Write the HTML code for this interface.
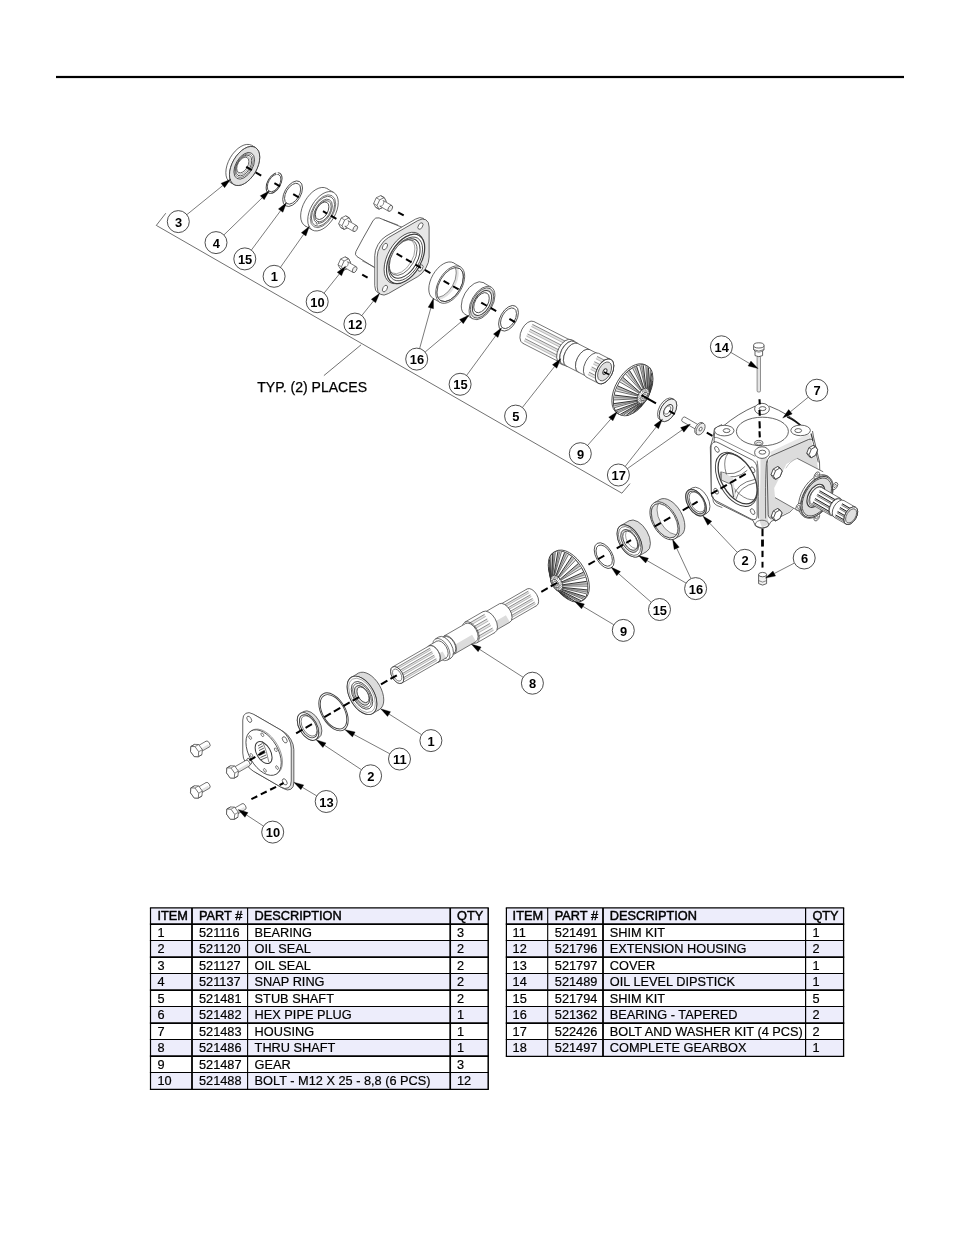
<!DOCTYPE html>
<html><head><meta charset="utf-8"><title>Gearbox parts</title>
<style>
html,body{margin:0;padding:0;background:#fff;}
body{width:954px;height:1235px;overflow:hidden;font-family:"Liberation Sans",sans-serif;}
svg{display:block;will-change:transform;}
text{font-family:"Liberation Sans",sans-serif;fill:#000;}
.cn{font-size:13.3px;font-weight:bold;}
.typ{font-size:14.05px;stroke:#000;stroke-width:0.25px;}
.th{font-size:12.75px;stroke:#000;stroke-width:0.45px;}
.td{font-size:12.75px;stroke:#000;stroke-width:0.2px;}
</style></head><body>
<svg width="954" height="1235" viewBox="0 0 954 1235">
<rect width="954" height="1235" fill="#fff"/>
<rect x="56" y="75.9" width="848" height="2.2" fill="#000"/>
<path d="M165.80 213.20 L156.30 225.40 L621.90 493.20 L630.00 483.60" fill="none" stroke="#333" stroke-width="0.7" stroke-linejoin="round" />
<line x1="323.90" y1="375.60" x2="361.10" y2="344.80" stroke="#333" stroke-width="0.7" />
<text x="257.2" y="392.3" class="typ">TYP. (2) PLACES</text>
<ellipse cx="240.96" cy="163.90" rx="12.35" ry="21.40" transform="rotate(30 240.96 163.90)" fill="#fff" stroke="#3c3c3c" stroke-width="0.7" />
<path d="M233.90 184.53 L230.26 182.43 L251.66 145.37 L255.30 147.47 Z" fill="#fff" stroke="none" stroke-width="0.7" stroke-linejoin="round" />
<line x1="233.90" y1="184.53" x2="230.26" y2="182.43" stroke="#3c3c3c" stroke-width="0.7" />
<line x1="255.30" y1="147.47" x2="251.66" y2="145.37" stroke="#3c3c3c" stroke-width="0.7" />
<ellipse cx="244.60" cy="166.00" rx="12.35" ry="21.40" transform="rotate(30 244.60 166.00)" fill="#fff" stroke="#3c3c3c" stroke-width="0.7" />
<ellipse cx="244.60" cy="166.00" rx="12.35" ry="21.40" transform="rotate(30 244.60 166.00)" fill="#e2e2e2" stroke="#3c3c3c" stroke-width="0.8" />
<ellipse cx="244.20" cy="165.80" rx="8.42" ry="14.60" transform="rotate(30 244.20 165.80)" fill="#fff" stroke="#3c3c3c" stroke-width="0.8" />
<ellipse cx="244.00" cy="165.70" rx="7.50" ry="13.00" transform="rotate(30 244.00 165.70)" fill="none" stroke="#3c3c3c" stroke-width="0.6" />
<ellipse cx="243.70" cy="165.50" rx="6.58" ry="11.40" transform="rotate(30 243.70 165.50)" fill="#fff" stroke="#3c3c3c" stroke-width="0.8" />
<ellipse cx="243.30" cy="165.30" rx="5.65" ry="9.80" transform="rotate(30 243.30 165.30)" fill="none" stroke="#777" stroke-width="0.5" />
<ellipse cx="242.80" cy="165.00" rx="4.96" ry="8.60" transform="rotate(30 242.80 165.00)" fill="#fff" stroke="#3c3c3c" stroke-width="0.7" />
<ellipse cx="274.10" cy="183.02" rx="6.52" ry="11.30" transform="rotate(30 274.10 183.02)" fill="#fff" stroke="#3c3c3c" stroke-width="0.9" />
<ellipse cx="274.10" cy="183.02" rx="5.54" ry="9.60" transform="rotate(30 274.10 183.02)" fill="#fff" stroke="#3c3c3c" stroke-width="0.8" />
<line x1="276.50" y1="172.02" x2="277.50" y2="174.42" stroke="#fff" stroke-width="2.0" />
<ellipse cx="292.60" cy="193.70" rx="8.08" ry="14.00" transform="rotate(30 292.60 193.70)" fill="#fff" stroke="#3c3c3c" stroke-width="0.8" />
<ellipse cx="292.60" cy="193.70" rx="6.58" ry="11.40" transform="rotate(30 292.60 193.70)" fill="#fff" stroke="#3c3c3c" stroke-width="0.8" />
<ellipse cx="315.90" cy="207.14" rx="12.46" ry="21.60" transform="rotate(30 315.90 207.14)" fill="#fff" stroke="#3c3c3c" stroke-width="0.7" />
<path d="M312.20 229.94 L305.10 225.84 L326.70 188.43 L333.80 192.53 Z" fill="#fff" stroke="none" stroke-width="0.7" stroke-linejoin="round" />
<line x1="312.20" y1="229.94" x2="305.10" y2="225.84" stroke="#3c3c3c" stroke-width="0.7" />
<line x1="333.80" y1="192.53" x2="326.70" y2="188.43" stroke="#3c3c3c" stroke-width="0.7" />
<ellipse cx="323.00" cy="211.24" rx="12.46" ry="21.60" transform="rotate(30 323.00 211.24)" fill="#fff" stroke="#3c3c3c" stroke-width="0.7" />
<ellipse cx="323.00" cy="211.24" rx="10.39" ry="18.00" transform="rotate(30 323.00 211.24)" fill="none" stroke="#3c3c3c" stroke-width="0.6" />
<ellipse cx="323.00" cy="211.24" rx="9.46" ry="16.40" transform="rotate(30 323.00 211.24)" fill="none" stroke="#3c3c3c" stroke-width="0.7" />
<ellipse cx="323.00" cy="211.24" rx="7.62" ry="13.20" transform="rotate(30 323.00 211.24)" fill="#fff" stroke="#3c3c3c" stroke-width="0.7" />
<ellipse cx="323.00" cy="211.24" rx="6.69" ry="11.60" transform="rotate(30 323.00 211.24)" fill="#fff" stroke="#3c3c3c" stroke-width="0.7" />
<ellipse cx="322.10" cy="210.74" rx="5.54" ry="9.60" transform="rotate(30 322.10 210.74)" fill="#fff" stroke="#3c3c3c" stroke-width="0.8" />
<ellipse cx="317.50" cy="222.84" rx="0.92" ry="1.60" transform="rotate(30 317.50 222.84)" fill="#fff" stroke="#3c3c3c" stroke-width="0.6" />
<path d="M338.63 223.75 L341.23 217.97 L345.73 215.82 L349.20 217.82 L351.11 221.45 L348.51 227.23 L344.00 229.38 L340.54 227.38 Z" fill="#fff" stroke="#3c3c3c" stroke-width="0.7" stroke-linejoin="round" />
<line x1="344.00" y1="229.38" x2="340.54" y2="227.38" stroke="#3c3c3c" stroke-width="0.595" />
<line x1="349.20" y1="217.82" x2="345.73" y2="215.82" stroke="#3c3c3c" stroke-width="0.595" />
<line x1="344.69" y1="219.97" x2="341.23" y2="217.97" stroke="#3c3c3c" stroke-width="0.595" />
<line x1="342.09" y1="225.75" x2="338.63" y2="223.75" stroke="#3c3c3c" stroke-width="0.595" />
<path d="M344.00 229.38 L348.51 227.23 L351.11 221.45 L349.20 217.82 L344.69 219.97 L342.09 225.75 Z" fill="#fff" stroke="#3c3c3c" stroke-width="0.7" stroke-linejoin="round" />
<path d="M344.95 226.46 L353.61 231.46 L356.91 225.74 L348.25 220.74 Z" fill="#fff" stroke="none" stroke-width="0.7" stroke-linejoin="round" />
<path d="M344.95 226.46 A1.90 3.30 30 0 0 348.25 220.74" fill="none" stroke="#3c3c3c" stroke-width="0.6" stroke-linejoin="round" stroke-linecap="round" />
<line x1="344.95" y1="226.46" x2="353.61" y2="231.46" stroke="#3c3c3c" stroke-width="0.7" />
<line x1="348.25" y1="220.74" x2="356.91" y2="225.74" stroke="#3c3c3c" stroke-width="0.7" />
<ellipse cx="355.26" cy="228.60" rx="1.90" ry="3.30" transform="rotate(30 355.26 228.60)" fill="#f0f0f0" stroke="#3c3c3c" stroke-width="0.7" />
<path d="M373.63 203.55 L376.23 197.77 L380.73 195.62 L384.20 197.62 L386.11 201.25 L383.51 207.03 L379.00 209.18 L375.54 207.18 Z" fill="#fff" stroke="#3c3c3c" stroke-width="0.7" stroke-linejoin="round" />
<line x1="379.00" y1="209.18" x2="375.54" y2="207.18" stroke="#3c3c3c" stroke-width="0.595" />
<line x1="384.20" y1="197.62" x2="380.73" y2="195.62" stroke="#3c3c3c" stroke-width="0.595" />
<line x1="379.69" y1="199.77" x2="376.23" y2="197.77" stroke="#3c3c3c" stroke-width="0.595" />
<line x1="377.09" y1="205.55" x2="373.63" y2="203.55" stroke="#3c3c3c" stroke-width="0.595" />
<path d="M379.00 209.18 L383.51 207.03 L386.11 201.25 L384.20 197.62 L379.69 199.77 L377.09 205.55 Z" fill="#fff" stroke="#3c3c3c" stroke-width="0.7" stroke-linejoin="round" />
<path d="M379.95 206.26 L388.61 211.26 L391.91 205.54 L383.25 200.54 Z" fill="#fff" stroke="none" stroke-width="0.7" stroke-linejoin="round" />
<path d="M379.95 206.26 A1.90 3.30 30 0 0 383.25 200.54" fill="none" stroke="#3c3c3c" stroke-width="0.6" stroke-linejoin="round" stroke-linecap="round" />
<line x1="379.95" y1="206.26" x2="388.61" y2="211.26" stroke="#3c3c3c" stroke-width="0.7" />
<line x1="383.25" y1="200.54" x2="391.91" y2="205.54" stroke="#3c3c3c" stroke-width="0.7" />
<ellipse cx="390.26" cy="208.40" rx="1.90" ry="3.30" transform="rotate(30 390.26 208.40)" fill="#f0f0f0" stroke="#3c3c3c" stroke-width="0.7" />
<path d="M338.03 264.75 L340.62 258.97 L345.13 256.82 L348.60 258.82 L350.51 262.45 L347.91 268.23 L343.40 270.38 L339.94 268.38 Z" fill="#fff" stroke="#3c3c3c" stroke-width="0.7" stroke-linejoin="round" />
<line x1="343.40" y1="270.38" x2="339.94" y2="268.38" stroke="#3c3c3c" stroke-width="0.595" />
<line x1="348.60" y1="258.82" x2="345.13" y2="256.82" stroke="#3c3c3c" stroke-width="0.595" />
<line x1="344.09" y1="260.97" x2="340.63" y2="258.97" stroke="#3c3c3c" stroke-width="0.595" />
<line x1="341.49" y1="266.75" x2="338.03" y2="264.75" stroke="#3c3c3c" stroke-width="0.595" />
<path d="M343.40 270.38 L347.91 268.23 L350.51 262.45 L348.60 258.82 L344.09 260.97 L341.49 266.75 Z" fill="#fff" stroke="#3c3c3c" stroke-width="0.7" stroke-linejoin="round" />
<path d="M344.35 267.46 L353.01 272.46 L356.31 266.74 L347.65 261.74 Z" fill="#fff" stroke="none" stroke-width="0.7" stroke-linejoin="round" />
<path d="M344.35 267.46 A1.90 3.30 30 0 0 347.65 261.74" fill="none" stroke="#3c3c3c" stroke-width="0.6" stroke-linejoin="round" stroke-linecap="round" />
<line x1="344.35" y1="267.46" x2="353.01" y2="272.46" stroke="#3c3c3c" stroke-width="0.7" />
<line x1="347.65" y1="261.74" x2="356.31" y2="266.74" stroke="#3c3c3c" stroke-width="0.7" />
<ellipse cx="354.66" cy="269.60" rx="1.90" ry="3.30" transform="rotate(30 354.66 269.60)" fill="#f0f0f0" stroke="#3c3c3c" stroke-width="0.7" />
<path d="M398.9 226.0 L379.1 217.9 Q375.4 216.9 373.2 220.4 L362.9 238.5 L355.9 251.6 Q354.4 254.6 357.0 256.6 L374.4 267.5 L402 262 L412 232 Z" fill="#fff" stroke="#3c3c3c" stroke-width="0.8" stroke-linejoin="round" stroke-linecap="round" />
<line x1="383.50" y1="219.80" x2="398.10" y2="225.00" stroke="#3c3c3c" stroke-width="0.5" />
<line x1="362.20" y1="260.90" x2="373.90" y2="266.80" stroke="#3c3c3c" stroke-width="0.5" />
<rect x="-29.5" y="-28" width="60" height="56" rx="13" ry="13" transform="matrix(0.866 -0.5 0 1 400.30 255.90)" fill="#fff" stroke="#3c3c3c" stroke-width="0.8" vector-effect="non-scaling-stroke"/>
<rect x="-29.5" y="-28" width="60" height="56" rx="13" ry="13" transform="matrix(0.866 -0.5 0 1 402.70 257.30)" fill="#e6e6e6" stroke="#3c3c3c" stroke-width="0.8" vector-effect="non-scaling-stroke"/>
<ellipse cx="420.45" cy="226.05" rx="2.08" ry="3.60" transform="rotate(30 420.45 226.05)" fill="#fff" stroke="#3c3c3c" stroke-width="0.7" />
<ellipse cx="384.95" cy="246.55" rx="2.08" ry="3.60" transform="rotate(30 384.95 246.55)" fill="#fff" stroke="#3c3c3c" stroke-width="0.7" />
<ellipse cx="384.95" cy="288.55" rx="2.08" ry="3.60" transform="rotate(30 384.95 288.55)" fill="#fff" stroke="#3c3c3c" stroke-width="0.7" />
<ellipse cx="420.45" cy="268.05" rx="2.08" ry="3.60" transform="rotate(30 420.45 268.05)" fill="#fff" stroke="#3c3c3c" stroke-width="0.7" />
<ellipse cx="404.00" cy="258.00" rx="16.27" ry="28.20" transform="rotate(30 404.00 258.00)" fill="#fff" stroke="#3c3c3c" stroke-width="0.8" />
<ellipse cx="405.60" cy="258.90" rx="15.58" ry="27.00" transform="rotate(30 405.60 258.90)" fill="#fff" stroke="#3c3c3c" stroke-width="1.2" />
<ellipse cx="405.60" cy="258.90" rx="13.85" ry="24.00" transform="rotate(30 405.60 258.90)" fill="#fff" stroke="#3c3c3c" stroke-width="0.8" />
<ellipse cx="404.80" cy="258.50" rx="12.46" ry="21.60" transform="rotate(30 404.80 258.50)" fill="#fff" stroke="#3c3c3c" stroke-width="1.0" />
<ellipse cx="403.20" cy="257.50" rx="11.31" ry="19.60" transform="rotate(30 403.20 257.50)" fill="#fff" stroke="#3c3c3c" stroke-width="0.7" />
<ellipse cx="401.60" cy="256.60" rx="10.85" ry="18.80" transform="rotate(30 401.60 256.60)" fill="none" stroke="#555" stroke-width="0.5" />
<ellipse cx="443.27" cy="280.63" rx="11.83" ry="20.50" transform="rotate(30 443.27 280.63)" fill="#fff" stroke="#3c3c3c" stroke-width="0.7" />
<path d="M439.95 302.38 L433.02 298.38 L453.52 262.88 L460.45 266.88 Z" fill="#fff" stroke="none" stroke-width="0.7" stroke-linejoin="round" />
<line x1="439.95" y1="302.38" x2="433.02" y2="298.38" stroke="#3c3c3c" stroke-width="0.7" />
<line x1="460.45" y1="266.88" x2="453.52" y2="262.88" stroke="#3c3c3c" stroke-width="0.7" />
<ellipse cx="450.20" cy="284.63" rx="11.83" ry="20.50" transform="rotate(30 450.20 284.63)" fill="#fff" stroke="#3c3c3c" stroke-width="0.7" />
<ellipse cx="450.20" cy="284.63" rx="10.73" ry="18.60" transform="rotate(30 450.20 284.63)" fill="#fff" stroke="#3c3c3c" stroke-width="0.7" />
<clipPath id="cup1"><ellipse cx="450.20" cy="284.63" rx="10.73" ry="18.6" transform="rotate(30 450.20 284.63)"/></clipPath>
<g clip-path="url(#cup1)">
<ellipse cx="443.20" cy="280.63" rx="10.62" ry="18.40" transform="rotate(30 443.20 280.63)" fill="none" stroke="#e2e2e2" stroke-width="5.0" />
<ellipse cx="443.20" cy="280.63" rx="10.62" ry="18.40" transform="rotate(30 443.20 280.63)" fill="#fff" stroke="#555" stroke-width="0.6" />
</g>
<ellipse cx="450.20" cy="284.63" rx="10.73" ry="18.60" transform="rotate(30 450.20 284.63)" fill="none" stroke="#3c3c3c" stroke-width="0.7" />
<ellipse cx="474.21" cy="298.48" rx="10.56" ry="18.30" transform="rotate(30 474.21 298.48)" fill="#fff" stroke="#3c3c3c" stroke-width="0.7" />
<path d="M472.85 318.83 L465.06 314.33 L483.36 282.63 L491.15 287.13 Z" fill="#fff" stroke="none" stroke-width="0.7" stroke-linejoin="round" />
<line x1="472.85" y1="318.83" x2="465.06" y2="314.33" stroke="#3c3c3c" stroke-width="0.7" />
<line x1="491.15" y1="287.13" x2="483.36" y2="282.63" stroke="#3c3c3c" stroke-width="0.7" />
<ellipse cx="482.00" cy="302.98" rx="10.56" ry="18.30" transform="rotate(30 482.00 302.98)" fill="#fff" stroke="#3c3c3c" stroke-width="0.7" />
<ellipse cx="482.00" cy="302.98" rx="9.58" ry="16.60" transform="rotate(30 482.00 302.98)" fill="#dcdcdc" stroke="#3c3c3c" stroke-width="0.7" />
<ellipse cx="482.00" cy="302.98" rx="7.85" ry="13.60" transform="rotate(30 482.00 302.98)" fill="#fff" stroke="#3c3c3c" stroke-width="0.9" />
<ellipse cx="481.50" cy="302.68" rx="6.35" ry="11.00" transform="rotate(30 481.50 302.68)" fill="#fff" stroke="#3c3c3c" stroke-width="0.8" />
<ellipse cx="508.50" cy="318.27" rx="8.08" ry="14.00" transform="rotate(30 508.50 318.27)" fill="#fff" stroke="#3c3c3c" stroke-width="0.8" />
<ellipse cx="508.50" cy="318.27" rx="6.52" ry="11.30" transform="rotate(30 508.50 318.27)" fill="#fff" stroke="#3c3c3c" stroke-width="0.8" />
<ellipse cx="528.29" cy="332.40" rx="7.04" ry="12.20" transform="rotate(27.072080237992736 528.29 332.40)" fill="#fff" stroke="#3c3c3c" stroke-width="0.7" />
<path d="M560.14 362.37 L522.74 343.26 L533.84 321.53 L571.24 340.65 Z" fill="#fff" stroke="none" stroke-width="0.7" stroke-linejoin="round" />
<line x1="560.14" y1="362.37" x2="522.74" y2="343.26" stroke="#3c3c3c" stroke-width="0.7" />
<line x1="571.24" y1="340.65" x2="533.84" y2="321.53" stroke="#3c3c3c" stroke-width="0.7" />
<path d="M569.80 343.47 L532.40 324.36 L531.29 326.53 L568.69 345.65 Z" fill="#e4e4e4" stroke="none" stroke-width="0.7" stroke-linejoin="round" />
<line x1="569.80" y1="343.47" x2="532.40" y2="324.36" stroke="#444" stroke-width="0.6" />
<line x1="568.69" y1="345.65" x2="531.29" y2="326.53" stroke="#777" stroke-width="0.45" />
<path d="M567.35 348.25 L529.96 329.14 L528.84 331.31 L566.24 350.43 Z" fill="#e4e4e4" stroke="none" stroke-width="0.7" stroke-linejoin="round" />
<line x1="567.35" y1="348.25" x2="529.96" y2="329.14" stroke="#444" stroke-width="0.6" />
<line x1="566.24" y1="350.43" x2="528.84" y2="331.31" stroke="#777" stroke-width="0.45" />
<path d="M564.91 353.03 L527.51 333.92 L526.40 336.09 L563.80 355.21 Z" fill="#e4e4e4" stroke="none" stroke-width="0.7" stroke-linejoin="round" />
<line x1="564.91" y1="353.03" x2="527.51" y2="333.92" stroke="#444" stroke-width="0.6" />
<line x1="563.80" y1="355.21" x2="526.40" y2="336.09" stroke="#777" stroke-width="0.45" />
<path d="M562.47 357.81 L525.07 338.70 L523.96 340.87 L561.36 359.99 Z" fill="#e4e4e4" stroke="none" stroke-width="0.7" stroke-linejoin="round" />
<line x1="562.47" y1="357.81" x2="525.07" y2="338.70" stroke="#444" stroke-width="0.6" />
<line x1="561.36" y1="359.99" x2="523.96" y2="340.87" stroke="#777" stroke-width="0.45" />
<ellipse cx="565.69" cy="351.51" rx="7.04" ry="12.20" transform="rotate(27.072080237992736 565.69 351.51)" fill="none" stroke="#3c3c3c" stroke-width="0.6" />
<ellipse cx="565.69" cy="351.51" rx="7.62" ry="13.20" transform="rotate(27.072080237992736 565.69 351.51)" fill="#fff" stroke="#3c3c3c" stroke-width="0.7" />
<path d="M562.53 364.72 L559.68 363.27 L571.70 339.76 L574.54 341.21 Z" fill="#fff" stroke="none" stroke-width="0.7" stroke-linejoin="round" />
<path d="M562.53 364.72 L559.68 363.27 L564.19 354.45 L567.04 355.91 Z" fill="#dcdcdc" stroke="none" stroke-width="0.7" stroke-linejoin="round" />
<line x1="562.53" y1="364.72" x2="559.68" y2="363.27" stroke="#3c3c3c" stroke-width="0.7" />
<line x1="574.54" y1="341.21" x2="571.70" y2="339.76" stroke="#3c3c3c" stroke-width="0.7" />
<ellipse cx="568.54" cy="352.97" rx="7.62" ry="13.20" transform="rotate(27.072080237992736 568.54 352.97)" fill="none" stroke="#3c3c3c" stroke-width="0.6" />
<ellipse cx="568.54" cy="352.97" rx="7.39" ry="12.80" transform="rotate(27.072080237992736 568.54 352.97)" fill="#fff" stroke="#3c3c3c" stroke-width="0.7" />
<path d="M566.27 366.19 L562.71 364.37 L574.36 341.57 L577.92 343.39 Z" fill="#fff" stroke="none" stroke-width="0.7" stroke-linejoin="round" />
<line x1="566.27" y1="366.19" x2="562.71" y2="364.37" stroke="#3c3c3c" stroke-width="0.7" />
<line x1="577.92" y1="343.39" x2="574.36" y2="341.57" stroke="#3c3c3c" stroke-width="0.7" />
<ellipse cx="572.10" cy="354.79" rx="7.39" ry="12.80" transform="rotate(27.072080237992736 572.10 354.79)" fill="none" stroke="#3c3c3c" stroke-width="0.6" />
<ellipse cx="572.10" cy="354.79" rx="7.27" ry="12.60" transform="rotate(27.072080237992736 572.10 354.79)" fill="#fff" stroke="#3c3c3c" stroke-width="0.7" />
<path d="M578.39 372.15 L566.36 366.01 L577.83 343.57 L589.85 349.71 Z" fill="#fff" stroke="none" stroke-width="0.7" stroke-linejoin="round" />
<line x1="578.39" y1="372.15" x2="566.36" y2="366.01" stroke="#3c3c3c" stroke-width="0.7" />
<line x1="589.85" y1="349.71" x2="577.83" y2="343.57" stroke="#3c3c3c" stroke-width="0.7" />
<ellipse cx="584.12" cy="360.93" rx="7.27" ry="12.60" transform="rotate(27.072080237992736 584.12 360.93)" fill="none" stroke="#3c3c3c" stroke-width="0.6" />
<ellipse cx="584.12" cy="360.93" rx="7.27" ry="12.60" transform="rotate(27.072080237992736 584.12 360.93)" fill="#fff" stroke="#3c3c3c" stroke-width="0.7" />
<path d="M586.84 376.48 L578.39 372.15 L589.85 349.71 L598.31 354.04 Z" fill="#fff" stroke="none" stroke-width="0.7" stroke-linejoin="round" />
<line x1="586.84" y1="376.48" x2="578.39" y2="372.15" stroke="#3c3c3c" stroke-width="0.7" />
<line x1="598.31" y1="354.04" x2="589.85" y2="349.71" stroke="#3c3c3c" stroke-width="0.7" />
<ellipse cx="592.58" cy="365.26" rx="7.27" ry="12.60" transform="rotate(27.072080237992736 592.58 365.26)" fill="none" stroke="#3c3c3c" stroke-width="0.6" />
<ellipse cx="592.58" cy="365.26" rx="7.73" ry="13.40" transform="rotate(27.072080237992736 592.58 365.26)" fill="#fff" stroke="#3c3c3c" stroke-width="0.7" />
<path d="M598.50 383.33 L586.48 377.19 L598.68 353.32 L610.70 359.47 Z" fill="#fff" stroke="none" stroke-width="0.7" stroke-linejoin="round" />
<line x1="598.50" y1="383.33" x2="586.48" y2="377.19" stroke="#3c3c3c" stroke-width="0.7" />
<line x1="610.70" y1="359.47" x2="598.68" y2="353.32" stroke="#3c3c3c" stroke-width="0.7" />
<path d="M609.11 362.57 L597.09 356.43 L595.87 358.81 L607.89 364.96 Z" fill="#e4e4e4" stroke="none" stroke-width="0.7" stroke-linejoin="round" />
<line x1="609.11" y1="362.57" x2="597.09" y2="356.43" stroke="#444" stroke-width="0.6" />
<line x1="607.89" y1="364.96" x2="595.87" y2="358.81" stroke="#777" stroke-width="0.45" />
<path d="M606.43 367.82 L594.41 361.68 L593.19 364.06 L605.21 370.21 Z" fill="#e4e4e4" stroke="none" stroke-width="0.7" stroke-linejoin="round" />
<line x1="606.43" y1="367.82" x2="594.41" y2="361.68" stroke="#444" stroke-width="0.6" />
<line x1="605.21" y1="370.21" x2="593.19" y2="364.06" stroke="#777" stroke-width="0.45" />
<path d="M603.75 373.07 L591.73 366.93 L590.51 369.31 L602.53 375.46 Z" fill="#e4e4e4" stroke="none" stroke-width="0.7" stroke-linejoin="round" />
<line x1="603.75" y1="373.07" x2="591.73" y2="366.93" stroke="#444" stroke-width="0.6" />
<line x1="602.53" y1="375.46" x2="590.51" y2="369.31" stroke="#777" stroke-width="0.45" />
<path d="M601.06 378.32 L589.04 372.18 L587.82 374.56 L599.84 380.71 Z" fill="#e4e4e4" stroke="none" stroke-width="0.7" stroke-linejoin="round" />
<line x1="601.06" y1="378.32" x2="589.04" y2="372.18" stroke="#444" stroke-width="0.6" />
<line x1="599.84" y1="380.71" x2="587.82" y2="374.56" stroke="#777" stroke-width="0.45" />
<ellipse cx="604.60" cy="371.40" rx="7.73" ry="13.40" transform="rotate(27.072080237992736 604.60 371.40)" fill="none" stroke="#3c3c3c" stroke-width="0.6" />
<ellipse cx="604.60" cy="371.40" rx="7.73" ry="13.40" transform="rotate(27.072080237992736 604.60 371.40)" fill="#fff" stroke="#3c3c3c" stroke-width="0.8" />
<ellipse cx="604.60" cy="371.40" rx="7.73" ry="13.40" transform="rotate(27.072080237992736 604.60 371.40)" fill="#fff" stroke="#3c3c3c" stroke-width="0.9" />
<ellipse cx="604.60" cy="371.40" rx="5.89" ry="10.20" transform="rotate(27.072080237992736 604.60 371.40)" fill="#e0e0e0" stroke="#3c3c3c" stroke-width="0.7" />
<ellipse cx="604.90" cy="371.60" rx="1.73" ry="3.00" transform="rotate(27.072080237992736 604.90 371.60)" fill="#fff" stroke="#3c3c3c" stroke-width="1.0" />
<ellipse cx="631.64" cy="389.32" rx="16.16" ry="28.00" transform="rotate(30 631.64 389.32)" fill="#fff" stroke="#3c3c3c" stroke-width="0.8" />
<ellipse cx="633.20" cy="390.22" rx="16.16" ry="28.00" transform="rotate(30 633.20 390.22)" fill="#fff" stroke="#3c3c3c" stroke-width="0.9" />
<path d="M620.28 414.35 L621.96 414.93 L639.67 403.64 L639.32 403.53 Z" fill="#bdbdbd" stroke="none" stroke-width="0.7" stroke-linejoin="round" />
<path d="M621.96 414.93 L623.46 415.18 L640.04 403.71 L639.67 403.64 Z" fill="#e9e9e9" stroke="none" stroke-width="0.7" stroke-linejoin="round" />
<line x1="620.28" y1="414.35" x2="639.32" y2="403.53" stroke="#222" stroke-width="0.9" />
<line x1="621.96" y1="414.93" x2="639.67" y2="403.64" stroke="#444" stroke-width="0.6" />
<line x1="623.46" y1="415.18" x2="640.04" y2="403.71" stroke="#333" stroke-width="0.7" />
<path d="M626.36 415.10 L628.41 414.66 L641.67 403.55 L641.25 403.65 Z" fill="#bdbdbd" stroke="none" stroke-width="0.7" stroke-linejoin="round" />
<path d="M628.41 414.66 L630.16 414.07 L642.11 403.41 L641.67 403.55 Z" fill="#e9e9e9" stroke="none" stroke-width="0.7" stroke-linejoin="round" />
<line x1="626.36" y1="415.10" x2="641.25" y2="403.65" stroke="#222" stroke-width="0.9" />
<line x1="628.41" y1="414.66" x2="641.67" y2="403.55" stroke="#444" stroke-width="0.6" />
<line x1="630.16" y1="414.07" x2="642.11" y2="403.41" stroke="#333" stroke-width="0.7" />
<path d="M633.37 412.49 L635.52 411.09 L643.88 402.45 L643.43 402.74 Z" fill="#bdbdbd" stroke="none" stroke-width="0.7" stroke-linejoin="round" />
<path d="M635.52 411.09 L637.28 409.73 L644.32 402.11 L643.88 402.45 Z" fill="#e9e9e9" stroke="none" stroke-width="0.7" stroke-linejoin="round" />
<line x1="633.37" y1="412.49" x2="643.43" y2="402.74" stroke="#222" stroke-width="0.9" />
<line x1="635.52" y1="411.09" x2="643.88" y2="402.45" stroke="#444" stroke-width="0.6" />
<line x1="637.28" y1="409.73" x2="644.32" y2="402.11" stroke="#333" stroke-width="0.7" />
<path d="M640.36 406.87 L642.31 404.70 L645.98 400.46 L645.58 400.92 Z" fill="#bdbdbd" stroke="none" stroke-width="0.7" stroke-linejoin="round" />
<path d="M642.31 404.70 L643.84 402.76 L646.37 399.98 L645.98 400.46 Z" fill="#e9e9e9" stroke="none" stroke-width="0.7" stroke-linejoin="round" />
<line x1="640.36" y1="406.87" x2="645.58" y2="400.92" stroke="#222" stroke-width="0.9" />
<line x1="642.31" y1="404.70" x2="645.98" y2="400.46" stroke="#444" stroke-width="0.6" />
<line x1="643.84" y1="402.76" x2="646.37" y2="399.98" stroke="#333" stroke-width="0.7" />
<path d="M646.38 399.00 L647.87 396.35 L647.71 397.87 L647.41 398.42 Z" fill="#bdbdbd" stroke="none" stroke-width="0.7" stroke-linejoin="round" />
<path d="M647.87 396.35 L648.97 394.09 L647.99 397.31 L647.71 397.87 Z" fill="#e9e9e9" stroke="none" stroke-width="0.7" stroke-linejoin="round" />
<line x1="646.38" y1="399.00" x2="647.41" y2="398.42" stroke="#222" stroke-width="0.9" />
<line x1="647.87" y1="396.35" x2="647.71" y2="397.87" stroke="#444" stroke-width="0.6" />
<line x1="648.97" y1="394.09" x2="647.99" y2="397.31" stroke="#333" stroke-width="0.7" />
<path d="M650.61 389.95 L651.45 387.18 L648.82 395.03 L648.66 395.60 Z" fill="#bdbdbd" stroke="none" stroke-width="0.7" stroke-linejoin="round" />
<path d="M651.45 387.18 L651.97 384.90 L648.95 394.46 L648.82 395.03 Z" fill="#e9e9e9" stroke="none" stroke-width="0.7" stroke-linejoin="round" />
<line x1="650.61" y1="389.95" x2="648.66" y2="395.60" stroke="#222" stroke-width="0.9" />
<line x1="651.45" y1="387.18" x2="648.82" y2="395.03" stroke="#444" stroke-width="0.6" />
<line x1="651.97" y1="384.90" x2="648.95" y2="394.46" stroke="#333" stroke-width="0.7" />
<path d="M652.50 380.93 L652.56 378.42 L649.17 392.31 L649.16 392.83 Z" fill="#bdbdbd" stroke="none" stroke-width="0.7" stroke-linejoin="round" />
<path d="M652.56 378.42 L652.43 376.43 L649.14 391.82 L649.17 392.31 Z" fill="#e9e9e9" stroke="none" stroke-width="0.7" stroke-linejoin="round" />
<line x1="652.50" y1="380.93" x2="649.16" y2="392.83" stroke="#222" stroke-width="0.9" />
<line x1="652.56" y1="378.42" x2="649.17" y2="392.31" stroke="#444" stroke-width="0.6" />
<line x1="652.43" y1="376.43" x2="649.14" y2="391.82" stroke="#333" stroke-width="0.7" />
<path d="M651.78 373.17 L651.06 371.25 L648.70 390.09 L648.86 390.48 Z" fill="#bdbdbd" stroke="none" stroke-width="0.7" stroke-linejoin="round" />
<path d="M651.06 371.25 L650.30 369.83 L648.51 389.73 L648.70 390.09 Z" fill="#e9e9e9" stroke="none" stroke-width="0.7" stroke-linejoin="round" />
<line x1="651.78" y1="373.17" x2="648.86" y2="390.48" stroke="#222" stroke-width="0.9" />
<line x1="651.06" y1="371.25" x2="648.70" y2="390.09" stroke="#444" stroke-width="0.6" />
<line x1="650.30" y1="369.83" x2="648.51" y2="389.73" stroke="#333" stroke-width="0.7" />
<path d="M648.55 367.71 L647.15 366.64 L647.49 388.66 L647.78 388.87 Z" fill="#bdbdbd" stroke="none" stroke-width="0.7" stroke-linejoin="round" />
<path d="M647.15 366.64 L645.85 365.97 L647.17 388.49 L647.49 388.66 Z" fill="#e9e9e9" stroke="none" stroke-width="0.7" stroke-linejoin="round" />
<line x1="648.55" y1="367.71" x2="647.78" y2="388.87" stroke="#222" stroke-width="0.9" />
<line x1="647.15" y1="366.64" x2="647.49" y2="388.66" stroke="#444" stroke-width="0.6" />
<line x1="645.85" y1="365.97" x2="647.17" y2="388.49" stroke="#333" stroke-width="0.7" />
<path d="M643.25 365.29 L641.35 365.22 L645.69 388.22 L646.08 388.22 Z" fill="#bdbdbd" stroke="none" stroke-width="0.7" stroke-linejoin="round" />
<path d="M641.35 365.22 L639.70 365.40 L645.28 388.25 L645.69 388.22 Z" fill="#e9e9e9" stroke="none" stroke-width="0.7" stroke-linejoin="round" />
<line x1="643.25" y1="365.29" x2="646.08" y2="388.22" stroke="#222" stroke-width="0.9" />
<line x1="641.35" y1="365.22" x2="645.69" y2="388.22" stroke="#444" stroke-width="0.6" />
<line x1="639.70" y1="365.40" x2="645.28" y2="388.25" stroke="#333" stroke-width="0.7" />
<path d="M636.59 366.24 L634.46 367.18 L643.55 388.82 L643.99 388.62 Z" fill="#bdbdbd" stroke="none" stroke-width="0.7" stroke-linejoin="round" />
<path d="M634.46 367.18 L632.67 368.17 L643.11 389.07 L643.55 388.82 Z" fill="#e9e9e9" stroke="none" stroke-width="0.7" stroke-linejoin="round" />
<line x1="636.59" y1="366.24" x2="643.99" y2="388.62" stroke="#222" stroke-width="0.9" />
<line x1="634.46" y1="367.18" x2="643.55" y2="388.82" stroke="#444" stroke-width="0.6" />
<line x1="632.67" y1="368.17" x2="643.11" y2="389.07" stroke="#333" stroke-width="0.7" />
<path d="M629.47 370.43 L627.39 372.24 L641.36 390.40 L641.79 390.01 Z" fill="#bdbdbd" stroke="none" stroke-width="0.7" stroke-linejoin="round" />
<path d="M627.39 372.24 L625.71 373.93 L640.94 390.81 L641.36 390.40 Z" fill="#e9e9e9" stroke="none" stroke-width="0.7" stroke-linejoin="round" />
<line x1="629.47" y1="370.43" x2="641.79" y2="390.01" stroke="#222" stroke-width="0.9" />
<line x1="627.39" y1="372.24" x2="641.36" y2="390.40" stroke="#444" stroke-width="0.6" />
<line x1="625.71" y1="373.93" x2="640.94" y2="390.81" stroke="#333" stroke-width="0.7" />
<path d="M622.86 377.29 L621.11 379.74 L639.41 392.72 L639.77 392.21 Z" fill="#bdbdbd" stroke="none" stroke-width="0.7" stroke-linejoin="round" />
<path d="M621.11 379.74 L619.76 381.88 L639.07 393.25 L639.41 392.72 Z" fill="#e9e9e9" stroke="none" stroke-width="0.7" stroke-linejoin="round" />
<line x1="622.86" y1="377.29" x2="639.77" y2="392.21" stroke="#222" stroke-width="0.9" />
<line x1="621.11" y1="379.74" x2="639.41" y2="392.72" stroke="#444" stroke-width="0.6" />
<line x1="619.76" y1="381.88" x2="639.07" y2="393.25" stroke="#333" stroke-width="0.7" />
<path d="M617.64 385.90 L616.46 388.65 L637.97 395.49 L638.20 394.91 Z" fill="#bdbdbd" stroke="none" stroke-width="0.7" stroke-linejoin="round" />
<path d="M616.46 388.65 L615.63 390.96 L637.76 396.06 L637.97 395.49 Z" fill="#e9e9e9" stroke="none" stroke-width="0.7" stroke-linejoin="round" />
<line x1="617.64" y1="385.90" x2="638.20" y2="394.91" stroke="#222" stroke-width="0.9" />
<line x1="616.46" y1="388.65" x2="637.97" y2="395.49" stroke="#444" stroke-width="0.6" />
<line x1="615.63" y1="390.96" x2="637.76" y2="396.06" stroke="#333" stroke-width="0.7" />
<path d="M614.52 395.09 L614.07 397.77 L637.22 398.32 L637.31 397.76 Z" fill="#bdbdbd" stroke="none" stroke-width="0.7" stroke-linejoin="round" />
<path d="M614.07 397.77 L613.87 399.94 L637.17 398.86 L637.22 398.32 Z" fill="#e9e9e9" stroke="none" stroke-width="0.7" stroke-linejoin="round" />
<line x1="614.52" y1="395.09" x2="637.31" y2="397.76" stroke="#222" stroke-width="0.9" />
<line x1="614.07" y1="397.77" x2="637.22" y2="398.32" stroke="#444" stroke-width="0.6" />
<line x1="613.87" y1="399.94" x2="637.17" y2="398.86" stroke="#333" stroke-width="0.7" />
<path d="M613.93 403.62 L614.27 405.88 L637.29 400.83 L637.21 400.37 Z" fill="#bdbdbd" stroke="none" stroke-width="0.7" stroke-linejoin="round" />
<path d="M614.27 405.88 L614.72 407.61 L637.40 401.26 L637.29 400.83 Z" fill="#e9e9e9" stroke="none" stroke-width="0.7" stroke-linejoin="round" />
<line x1="613.93" y1="403.62" x2="637.21" y2="400.37" stroke="#222" stroke-width="0.9" />
<line x1="614.27" y1="405.88" x2="637.29" y2="400.83" stroke="#444" stroke-width="0.6" />
<line x1="614.72" y1="407.61" x2="637.40" y2="401.26" stroke="#333" stroke-width="0.7" />
<path d="M615.94 410.35 L617.02 411.87 L638.14 402.69 L637.91 402.38 Z" fill="#bdbdbd" stroke="none" stroke-width="0.7" stroke-linejoin="round" />
<path d="M617.02 411.87 L618.07 412.93 L638.40 402.96 L638.14 402.69 Z" fill="#e9e9e9" stroke="none" stroke-width="0.7" stroke-linejoin="round" />
<line x1="615.94" y1="410.35" x2="637.91" y2="402.38" stroke="#222" stroke-width="0.9" />
<line x1="617.02" y1="411.87" x2="638.14" y2="402.69" stroke="#444" stroke-width="0.6" />
<line x1="618.07" y1="412.93" x2="638.40" y2="402.96" stroke="#333" stroke-width="0.7" />
<ellipse cx="643.16" cy="395.97" rx="4.90" ry="8.50" transform="rotate(30 643.16 395.97)" fill="#fff" stroke="#3c3c3c" stroke-width="0.8" />
<line x1="639.15" y1="403.46" x2="640.95" y2="400.09" stroke="#444" stroke-width="0.6" />
<line x1="641.04" y1="403.69" x2="641.99" y2="400.22" stroke="#444" stroke-width="0.6" />
<line x1="643.21" y1="402.88" x2="643.19" y2="399.77" stroke="#444" stroke-width="0.6" />
<line x1="645.38" y1="401.14" x2="644.38" y2="398.81" stroke="#444" stroke-width="0.6" />
<line x1="647.25" y1="398.69" x2="645.41" y2="397.47" stroke="#444" stroke-width="0.6" />
<line x1="648.56" y1="395.89" x2="646.13" y2="395.93" stroke="#444" stroke-width="0.6" />
<line x1="649.15" y1="393.09" x2="646.45" y2="394.39" stroke="#444" stroke-width="0.6" />
<line x1="648.92" y1="390.68" x2="646.33" y2="393.06" stroke="#444" stroke-width="0.6" />
<line x1="647.92" y1="388.99" x2="645.78" y2="392.13" stroke="#444" stroke-width="0.6" />
<line x1="646.28" y1="388.24" x2="644.87" y2="391.72" stroke="#444" stroke-width="0.6" />
<line x1="644.21" y1="388.53" x2="643.74" y2="391.88" stroke="#444" stroke-width="0.6" />
<line x1="642.00" y1="389.83" x2="642.52" y2="392.60" stroke="#444" stroke-width="0.6" />
<line x1="639.95" y1="391.96" x2="641.39" y2="393.77" stroke="#444" stroke-width="0.6" />
<line x1="638.33" y1="394.63" x2="640.50" y2="395.23" stroke="#444" stroke-width="0.6" />
<line x1="637.37" y1="397.48" x2="639.97" y2="396.80" stroke="#444" stroke-width="0.6" />
<line x1="637.18" y1="400.13" x2="639.87" y2="398.26" stroke="#444" stroke-width="0.6" />
<line x1="637.80" y1="402.22" x2="640.21" y2="399.41" stroke="#444" stroke-width="0.6" />
<ellipse cx="644.20" cy="396.57" rx="2.70" ry="4.68" transform="rotate(30 644.20 396.57)" fill="#e4e4e4" stroke="#3c3c3c" stroke-width="0.7" />
<ellipse cx="644.20" cy="396.57" rx="1.57" ry="2.72" transform="rotate(30 644.20 396.57)" fill="#fff" stroke="#3c3c3c" stroke-width="0.6" />
<ellipse cx="666.27" cy="409.30" rx="7.15" ry="12.40" transform="rotate(30 666.27 409.30)" fill="#fff" stroke="#3c3c3c" stroke-width="0.7" />
<path d="M661.80 421.04 L660.07 420.04 L672.47 398.56 L674.20 399.56 Z" fill="#fff" stroke="none" stroke-width="0.7" stroke-linejoin="round" />
<line x1="661.80" y1="421.04" x2="660.07" y2="420.04" stroke="#3c3c3c" stroke-width="0.7" />
<line x1="674.20" y1="399.56" x2="672.47" y2="398.56" stroke="#3c3c3c" stroke-width="0.7" />
<ellipse cx="668.00" cy="410.30" rx="7.15" ry="12.40" transform="rotate(30 668.00 410.30)" fill="#fff" stroke="#3c3c3c" stroke-width="0.7" />
<ellipse cx="668.00" cy="410.30" rx="7.15" ry="12.40" transform="rotate(30 668.00 410.30)" fill="#f1f1f1" stroke="#3c3c3c" stroke-width="0.8" />
<ellipse cx="668.30" cy="410.50" rx="3.81" ry="6.60" transform="rotate(30 668.30 410.50)" fill="#fff" stroke="#3c3c3c" stroke-width="0.9" />
<ellipse cx="667.40" cy="410.00" rx="2.65" ry="4.60" transform="rotate(30 667.40 410.00)" fill="#fff" stroke="#3c3c3c" stroke-width="0.6" />
<ellipse cx="683.60" cy="419.30" rx="1.50" ry="2.60" transform="rotate(30 683.60 419.30)" fill="#fff" stroke="#3c3c3c" stroke-width="0.7" />
<path d="M682.30 421.55 L699.30 431.36 L701.90 426.86 L684.90 417.05 Z" fill="#fff" stroke="none" stroke-width="0.7" stroke-linejoin="round" />
<line x1="682.30" y1="421.55" x2="699.30" y2="431.36" stroke="#3c3c3c" stroke-width="0.7" />
<line x1="684.90" y1="417.05" x2="701.90" y2="426.86" stroke="#3c3c3c" stroke-width="0.7" />
<ellipse cx="699.21" cy="428.31" rx="3.69" ry="6.40" transform="rotate(30 699.21 428.31)" fill="#fff" stroke="#3c3c3c" stroke-width="0.7" />
<path d="M697.40 434.65 L696.01 433.85 L702.41 422.77 L703.80 423.57 Z" fill="#fff" stroke="none" stroke-width="0.7" stroke-linejoin="round" />
<line x1="697.40" y1="434.65" x2="696.01" y2="433.85" stroke="#3c3c3c" stroke-width="0.7" />
<line x1="703.80" y1="423.57" x2="702.41" y2="422.77" stroke="#3c3c3c" stroke-width="0.7" />
<ellipse cx="700.60" cy="429.11" rx="3.69" ry="6.40" transform="rotate(30 700.60 429.11)" fill="#eee" stroke="#3c3c3c" stroke-width="0.7" />
<ellipse cx="700.60" cy="429.11" rx="1.27" ry="2.20" transform="rotate(30 700.60 429.11)" fill="#fff" stroke="#3c3c3c" stroke-width="0.7" />
<path d="M762.00 402.80 L772.00 404.80 L806.00 423.50 L812.50 431.00 L813.50 437.00 L819.50 462.00 L820.00 480.00 L790.00 512.00 L771.00 521.50 L768.00 526.50 L762.00 528.20 L755.50 526.00 L753.00 520.50 L716.50 502.50 L711.50 496.00 L710.30 447.00 L713.00 437.50 L714.50 428.50 L722.00 424.50 L752.00 405.50 Z" fill="#fff" stroke="none" stroke-width="0.7" stroke-linejoin="round" />
<path d="M812.50 431.00 L813.50 437.00 L819.50 462.00 L820.00 480.00 L790.00 512.00 L771.00 521.50 L768.00 526.50 L762.00 528.20 L755.50 526.00 L753.00 520.50 L716.50 502.50 L711.50 496.00 L710.30 447.00 L713.00 437.50 L714.50 428.50 L722.00 424.50" fill="none" stroke="#3c3c3c" stroke-width="0.8" stroke-linejoin="round" />
<path d="M768.50 461.00 L772.00 455.00 L810.50 437.50 L817.00 461.00 L819.00 479.00 L805.00 498.00 L790.00 511.50 L771.00 520.50 L767.00 516.00 L766.00 470.00 Z" fill="#dcdcdc" stroke="none" stroke-width="0.7" stroke-linejoin="round" />
<path d="M760.50 456.00 L767.00 458.00 L766.50 470.00 L767.50 517.00 L769.00 524.00 L762.00 527.50 L759.50 521.00 L760.50 470.00 Z" fill="#dcdcdc" stroke="none" stroke-width="0.7" stroke-linejoin="round" />
<path d="M770.00 452.00 L808.00 434.00 L811.50 437.00 L771.50 455.50 Z" fill="#e6e6e6" stroke="none" stroke-width="0.7" stroke-linejoin="round" />
<path d="M755 406.2 Q738 413.6 723.6 425.8" fill="none" stroke="#3c3c3c" stroke-width="0.8" stroke-linejoin="round" stroke-linecap="round" />
<path d="M769.5 406.2 Q789 413.8 802.5 426.5" fill="none" stroke="#3c3c3c" stroke-width="0.8" stroke-linejoin="round" stroke-linecap="round" />
<path d="M787.6 417.0 Q797 421.5 802.2 427.2" fill="none" stroke="#111" stroke-width="1.5" stroke-linejoin="round" stroke-linecap="round" />
<ellipse cx="762.40" cy="431.50" rx="26.00" ry="14.30" transform="rotate(0 762.40 431.50)" fill="#fff" stroke="#3c3c3c" stroke-width="0.8" />
<ellipse cx="762" cy="408.9" rx="7.4" ry="5.6" fill="#fff" stroke="#3c3c3c" stroke-width="0.8"/>
<ellipse cx="762" cy="452.6" rx="7.4" ry="5.8" fill="#fff" stroke="#3c3c3c" stroke-width="0.8"/>
<ellipse cx="724.2" cy="430.6" rx="9.8" ry="5.3" fill="#fff" stroke="#3c3c3c" stroke-width="0.8"/>
<ellipse cx="800.6" cy="430.4" rx="9.8" ry="5.3" fill="#fff" stroke="#3c3c3c" stroke-width="0.8"/>
<ellipse cx="762.6" cy="408.6" rx="3.4" ry="2.0" fill="#fff" stroke="#3c3c3c" stroke-width="0.8"/>
<ellipse cx="726.6" cy="430.6" rx="3.4" ry="2.0" fill="#fff" stroke="#3c3c3c" stroke-width="0.8"/>
<ellipse cx="798.2" cy="430.6" rx="3.4" ry="2.0" fill="#fff" stroke="#3c3c3c" stroke-width="0.8"/>
<ellipse cx="762.4" cy="452.2" rx="3.4" ry="2.0" fill="#fff" stroke="#3c3c3c" stroke-width="0.8"/>
<ellipse cx="758.8" cy="443.0" rx="4.1" ry="2.6" fill="#fff" stroke="#3c3c3c" stroke-width="0.8"/>
<ellipse cx="758.8" cy="443.6" rx="2.6" ry="1.5" fill="#eee" stroke="#3c3c3c" stroke-width="0.6"/>
<line x1="714.60" y1="432.50" x2="714.00" y2="441.50" stroke="#3c3c3c" stroke-width="0.8" />
<line x1="811.00" y1="433.50" x2="813.00" y2="441.00" stroke="#3c3c3c" stroke-width="1.2" />
<path d="M714.5 441.8 Q711 442.8 711 448 L711.3 492 Q711.6 498 716 500.8 L751.5 519.2 Q756.8 521.2 757.2 515.5 L757.0 468.5 Q756.8 462.8 752.5 460.2 L719 443 Q716 441.4 714.5 441.8 Z" fill="#fff" stroke="#3c3c3c" stroke-width="0.8" stroke-linejoin="round" stroke-linecap="round" />
<path d="M714.4 437.5 Q716 436.8 719 438.2 L755 456.2" fill="none" stroke="#3c3c3c" stroke-width="0.6" stroke-linejoin="round" stroke-linecap="round" />
<ellipse cx="716.90" cy="449.40" rx="1.85" ry="3.20" transform="rotate(-30 716.90 449.40)" fill="#fff" stroke="#3c3c3c" stroke-width="0.7" />
<ellipse cx="752.60" cy="469.80" rx="1.85" ry="3.20" transform="rotate(-30 752.60 469.80)" fill="#fff" stroke="#3c3c3c" stroke-width="0.7" />
<ellipse cx="752.60" cy="511.60" rx="1.85" ry="3.20" transform="rotate(-30 752.60 511.60)" fill="#fff" stroke="#3c3c3c" stroke-width="0.7" />
<ellipse cx="716.20" cy="491.20" rx="1.85" ry="3.20" transform="rotate(-30 716.20 491.20)" fill="#fff" stroke="#3c3c3c" stroke-width="0.7" />
<ellipse cx="736.30" cy="479.39" rx="17.08" ry="29.60" transform="rotate(-30 736.30 479.39)" fill="#fff" stroke="#3c3c3c" stroke-width="0.9" />
<ellipse cx="737.60" cy="478.69" rx="15.93" ry="27.60" transform="rotate(-30 737.60 478.69)" fill="#fff" stroke="#3c3c3c" stroke-width="1.3" />
<clipPath id="opn"><ellipse cx="737.60" cy="478.69" rx="15.58" ry="27.0" transform="rotate(-30 737.60 478.69)"/></clipPath>
<g clip-path="url(#opn)">
<ellipse cx="743.80" cy="475.09" rx="15.58" ry="27.00" transform="rotate(-30 743.80 475.09)" fill="none" stroke="#444" stroke-width="0.6" />
<path d="M721.0 472.0 Q735 477.5 745 466.5" fill="none" stroke="#3c3c3c" stroke-width="0.7" stroke-linejoin="round" stroke-linecap="round" />
<path d="M721.0 474.5 Q736 481.0 747 470.5" fill="none" stroke="#3c3c3c" stroke-width="0.7" stroke-linejoin="round" stroke-linecap="round" />
<path d="M733.5 497.0 Q736 483.0 754.5 479.5" fill="none" stroke="#3c3c3c" stroke-width="0.7" stroke-linejoin="round" stroke-linecap="round" />
<path d="M736.0 499.0 Q739 486.5 756.0 482.5" fill="none" stroke="#3c3c3c" stroke-width="0.7" stroke-linejoin="round" stroke-linecap="round" />
<path d="M721.00 472.00 L721.00 480.00 L731.50 484.50 L733.50 497.00 L736.00 499.00 L733.00 477.50 Z" fill="#e0e0e0" stroke="none" stroke-width="0.7" stroke-linejoin="round" />
<line x1="721.00" y1="472.00" x2="721.00" y2="480.00" stroke="#3c3c3c" stroke-width="1.0" />
<line x1="721.00" y1="480.00" x2="731.50" y2="484.50" stroke="#3c3c3c" stroke-width="0.7" />
<line x1="731.50" y1="484.50" x2="733.50" y2="497.00" stroke="#3c3c3c" stroke-width="0.9" />
</g>
<path d="M713 497 Q712 503 717 505.5 L722 507.5" fill="none" stroke="#3c3c3c" stroke-width="0.7" stroke-linejoin="round" stroke-linecap="round" />
<path d="M757.2 461 Q759 470 758.6 518" fill="none" stroke="#3c3c3c" stroke-width="0.7" stroke-linejoin="round" stroke-linecap="round" />
<path d="M766.8 461 Q765 470 765.6 518" fill="none" stroke="#3c3c3c" stroke-width="0.7" stroke-linejoin="round" stroke-linecap="round" />
<ellipse cx="762" cy="524.2" rx="6.6" ry="4.0" fill="none" stroke="#3c3c3c" stroke-width="0.7"/>
<path d="M769.8 456.5 Q767 458.5 767 464 L768.2 514.5 Q768.6 519 772 518 " fill="none" stroke="#3c3c3c" stroke-width="0.8" stroke-linejoin="round" stroke-linecap="round" />
<path d="M769.8 456.5 L808.5 439.5 Q812 438.3 813 441.5 L818.2 462" fill="none" stroke="#3c3c3c" stroke-width="0.8" stroke-linejoin="round" stroke-linecap="round" />
<path d="M797.20 458.40 L823.20 471.80 L822.00 500.00 L800.00 511.80 L775.00 497.60 L774.20 488.00 L786.50 464.00 Z" fill="#fff" stroke="none" stroke-width="0.7" stroke-linejoin="round" />
<line x1="797.20" y1="458.40" x2="823.20" y2="471.80" stroke="#3c3c3c" stroke-width="0.7" />
<line x1="775.00" y1="497.60" x2="800.00" y2="511.80" stroke="#3c3c3c" stroke-width="0.7" />
<path d="M797.2 458.4 Q790 461 786 468" fill="none" stroke="#888" stroke-width="0.5" stroke-linejoin="round" stroke-linecap="round" />
<path d="M770.99 474.73 L773.18 469.08 L777.57 466.55 L779.99 467.95 L782.18 471.07 L779.99 476.72 L775.61 479.25 L773.18 477.85 Z" fill="#fff" stroke="#3c3c3c" stroke-width="0.9" stroke-linejoin="round" />
<line x1="775.61" y1="479.25" x2="773.18" y2="477.85" stroke="#3c3c3c" stroke-width="0.765" />
<line x1="779.99" y1="467.95" x2="777.57" y2="466.55" stroke="#3c3c3c" stroke-width="0.765" />
<line x1="775.61" y1="470.48" x2="773.18" y2="469.08" stroke="#3c3c3c" stroke-width="0.765" />
<line x1="773.42" y1="476.13" x2="770.99" y2="474.73" stroke="#3c3c3c" stroke-width="0.765" />
<path d="M775.61 479.25 L779.99 476.72 L782.18 471.07 L779.99 467.95 L775.61 470.48 L773.42 476.13 Z" fill="#fff" stroke="#3c3c3c" stroke-width="0.9" stroke-linejoin="round" />
<path d="M806.73 453.25 L808.86 447.78 L813.10 445.33 L815.52 446.73 L817.64 449.75 L815.52 455.22 L811.28 457.67 L808.85 456.27 Z" fill="#fff" stroke="#3c3c3c" stroke-width="0.9" stroke-linejoin="round" />
<line x1="811.28" y1="457.67" x2="808.85" y2="456.27" stroke="#3c3c3c" stroke-width="0.765" />
<line x1="815.52" y1="446.73" x2="813.10" y2="445.33" stroke="#3c3c3c" stroke-width="0.765" />
<line x1="811.28" y1="449.18" x2="808.86" y2="447.78" stroke="#3c3c3c" stroke-width="0.765" />
<line x1="809.16" y1="454.65" x2="806.73" y2="453.25" stroke="#3c3c3c" stroke-width="0.765" />
<path d="M811.28 457.67 L815.52 455.22 L817.64 449.75 L815.52 446.73 L811.28 449.18 L809.16 454.65 Z" fill="#fff" stroke="#3c3c3c" stroke-width="0.9" stroke-linejoin="round" />
<path d="M771.13 516.45 L773.26 510.98 L777.50 508.53 L779.92 509.93 L782.04 512.95 L779.92 518.42 L775.68 520.87 L773.25 519.47 Z" fill="#fff" stroke="#3c3c3c" stroke-width="0.9" stroke-linejoin="round" />
<line x1="775.68" y1="520.87" x2="773.25" y2="519.47" stroke="#3c3c3c" stroke-width="0.765" />
<line x1="779.92" y1="509.93" x2="777.50" y2="508.53" stroke="#3c3c3c" stroke-width="0.765" />
<line x1="775.68" y1="512.38" x2="773.26" y2="510.98" stroke="#3c3c3c" stroke-width="0.765" />
<line x1="773.56" y1="517.85" x2="771.13" y2="516.45" stroke="#3c3c3c" stroke-width="0.765" />
<path d="M775.68 520.87 L779.92 518.42 L782.04 512.95 L779.92 509.93 L775.68 512.38 L773.56 517.85 Z" fill="#fff" stroke="#3c3c3c" stroke-width="0.9" stroke-linejoin="round" />
<ellipse cx="815.07" cy="496.00" rx="13.50" ry="23.40" transform="rotate(30 815.07 496.00)" fill="#fff" stroke="#3c3c3c" stroke-width="0.7" />
<path d="M805.10 517.26 L803.37 516.26 L826.77 475.74 L828.50 476.74 Z" fill="#fff" stroke="none" stroke-width="0.7" stroke-linejoin="round" />
<line x1="805.10" y1="517.26" x2="803.37" y2="516.26" stroke="#3c3c3c" stroke-width="0.7" />
<line x1="828.50" y1="476.74" x2="826.77" y2="475.74" stroke="#3c3c3c" stroke-width="0.7" />
<ellipse cx="816.80" cy="497.00" rx="13.50" ry="23.40" transform="rotate(30 816.80 497.00)" fill="#fff" stroke="#3c3c3c" stroke-width="0.7" />
<ellipse cx="816.80" cy="475.40" rx="2.25" ry="3.90" transform="rotate(30 816.80 475.40)" fill="#fff" stroke="#3c3c3c" stroke-width="0.7" />
<ellipse cx="816.80" cy="475.40" rx="1.04" ry="1.80" transform="rotate(30 816.80 475.40)" fill="#fff" stroke="#3c3c3c" stroke-width="0.6" />
<ellipse cx="835.00" cy="486.00" rx="2.25" ry="3.90" transform="rotate(30 835.00 486.00)" fill="#fff" stroke="#3c3c3c" stroke-width="0.7" />
<ellipse cx="835.00" cy="486.00" rx="1.04" ry="1.80" transform="rotate(30 835.00 486.00)" fill="#fff" stroke="#3c3c3c" stroke-width="0.6" />
<ellipse cx="816.80" cy="517.40" rx="2.25" ry="3.90" transform="rotate(30 816.80 517.40)" fill="#fff" stroke="#3c3c3c" stroke-width="0.7" />
<ellipse cx="816.80" cy="517.40" rx="1.04" ry="1.80" transform="rotate(30 816.80 517.40)" fill="#fff" stroke="#3c3c3c" stroke-width="0.6" />
<ellipse cx="798.60" cy="506.80" rx="2.25" ry="3.90" transform="rotate(30 798.60 506.80)" fill="#fff" stroke="#3c3c3c" stroke-width="0.7" />
<ellipse cx="798.60" cy="506.80" rx="1.04" ry="1.80" transform="rotate(30 798.60 506.80)" fill="#fff" stroke="#3c3c3c" stroke-width="0.6" />
<ellipse cx="816.80" cy="497.00" rx="12.92" ry="22.40" transform="rotate(30 816.80 497.00)" fill="#fff" stroke="#3c3c3c" stroke-width="0.9" />
<ellipse cx="816.80" cy="497.00" rx="12.00" ry="20.80" transform="rotate(30 816.80 497.00)" fill="#dedede" stroke="#3c3c3c" stroke-width="0.8" />
<ellipse cx="815.80" cy="495.80" rx="7.27" ry="12.60" transform="rotate(30 815.80 495.80)" fill="#fff" stroke="#3c3c3c" stroke-width="1.2" />
<ellipse cx="816.60" cy="496.40" rx="6.35" ry="11.00" transform="rotate(30 816.60 496.40)" fill="#fff" stroke="#3c3c3c" stroke-width="0.7" />
<ellipse cx="816.59" cy="495.95" rx="5.65" ry="9.80" transform="rotate(29.999999999999986 816.59 495.95)" fill="#fff" stroke="#3c3c3c" stroke-width="0.7" />
<path d="M830.74 515.44 L811.69 504.44 L821.49 487.46 L840.54 498.46 Z" fill="#fff" stroke="none" stroke-width="0.7" stroke-linejoin="round" />
<line x1="830.74" y1="515.44" x2="811.69" y2="504.44" stroke="#3c3c3c" stroke-width="0.7" />
<line x1="840.54" y1="498.46" x2="821.49" y2="487.46" stroke="#3c3c3c" stroke-width="0.7" />
<path d="M838.68 501.69 L819.63 490.69 L818.85 492.05 L837.90 503.05 Z" fill="#cfcfcf" stroke="none" stroke-width="0.7" stroke-linejoin="round" />
<line x1="838.68" y1="501.69" x2="819.63" y2="490.69" stroke="#1e1e1e" stroke-width="1.0" />
<line x1="837.90" y1="503.05" x2="818.85" y2="492.05" stroke="#444" stroke-width="0.6" />
<path d="M836.53 505.42 L817.47 494.42 L816.69 495.78 L835.74 506.78 Z" fill="#cfcfcf" stroke="none" stroke-width="0.7" stroke-linejoin="round" />
<line x1="836.53" y1="505.42" x2="817.47" y2="494.42" stroke="#1e1e1e" stroke-width="1.0" />
<line x1="835.74" y1="506.78" x2="816.69" y2="495.78" stroke="#444" stroke-width="0.6" />
<path d="M834.17 509.50 L815.12 498.50 L814.34 499.85 L833.39 510.85 Z" fill="#cfcfcf" stroke="none" stroke-width="0.7" stroke-linejoin="round" />
<line x1="834.17" y1="509.50" x2="815.12" y2="498.50" stroke="#1e1e1e" stroke-width="1.0" />
<line x1="833.39" y1="510.85" x2="814.34" y2="499.85" stroke="#444" stroke-width="0.6" />
<path d="M832.12 513.06 L813.06 502.06 L812.28 503.42 L831.33 514.42 Z" fill="#cfcfcf" stroke="none" stroke-width="0.7" stroke-linejoin="round" />
<line x1="832.12" y1="513.06" x2="813.06" y2="502.06" stroke="#1e1e1e" stroke-width="1.0" />
<line x1="831.33" y1="514.42" x2="812.28" y2="503.42" stroke="#444" stroke-width="0.6" />
<ellipse cx="835.64" cy="506.95" rx="5.65" ry="9.80" transform="rotate(29.999999999999986 835.64 506.95)" fill="none" stroke="#3c3c3c" stroke-width="0.6" />
<ellipse cx="835.64" cy="506.95" rx="5.19" ry="9.00" transform="rotate(29.999999999999986 835.64 506.95)" fill="#fff" stroke="#3c3c3c" stroke-width="0.7" />
<path d="M834.61 516.74 L831.14 514.74 L840.14 499.16 L843.61 501.16 Z" fill="#fff" stroke="none" stroke-width="0.7" stroke-linejoin="round" />
<line x1="834.61" y1="516.74" x2="831.14" y2="514.74" stroke="#3c3c3c" stroke-width="0.7" />
<line x1="843.61" y1="501.16" x2="840.14" y2="499.16" stroke="#3c3c3c" stroke-width="0.7" />
<ellipse cx="839.11" cy="508.95" rx="5.19" ry="9.00" transform="rotate(29.999999999999986 839.11 508.95)" fill="none" stroke="#3c3c3c" stroke-width="0.6" />
<ellipse cx="839.11" cy="508.95" rx="5.60" ry="9.70" transform="rotate(29.999999999999986 839.11 508.95)" fill="#fff" stroke="#3c3c3c" stroke-width="0.7" />
<path d="M845.95 524.10 L834.26 517.35 L843.96 500.55 L855.65 507.30 Z" fill="#fff" stroke="none" stroke-width="0.7" stroke-linejoin="round" />
<line x1="845.95" y1="524.10" x2="834.26" y2="517.35" stroke="#3c3c3c" stroke-width="0.7" />
<line x1="855.65" y1="507.30" x2="843.96" y2="500.55" stroke="#3c3c3c" stroke-width="0.7" />
<path d="M853.81 510.49 L842.12 503.74 L841.34 505.09 L853.03 511.84 Z" fill="#cfcfcf" stroke="none" stroke-width="0.7" stroke-linejoin="round" />
<line x1="853.81" y1="510.49" x2="842.12" y2="503.74" stroke="#1e1e1e" stroke-width="1.0" />
<line x1="853.03" y1="511.84" x2="841.34" y2="505.09" stroke="#444" stroke-width="0.6" />
<path d="M851.67 514.19 L839.98 507.44 L839.21 508.78 L850.90 515.53 Z" fill="#cfcfcf" stroke="none" stroke-width="0.7" stroke-linejoin="round" />
<line x1="851.67" y1="514.19" x2="839.98" y2="507.44" stroke="#1e1e1e" stroke-width="1.0" />
<line x1="850.90" y1="515.53" x2="839.21" y2="508.78" stroke="#444" stroke-width="0.6" />
<path d="M849.34 518.22 L837.65 511.47 L836.88 512.81 L848.57 519.56 Z" fill="#cfcfcf" stroke="none" stroke-width="0.7" stroke-linejoin="round" />
<line x1="849.34" y1="518.22" x2="837.65" y2="511.47" stroke="#1e1e1e" stroke-width="1.0" />
<line x1="848.57" y1="519.56" x2="836.88" y2="512.81" stroke="#444" stroke-width="0.6" />
<path d="M847.31 521.75 L835.62 515.00 L834.84 516.34 L846.53 523.09 Z" fill="#cfcfcf" stroke="none" stroke-width="0.7" stroke-linejoin="round" />
<line x1="847.31" y1="521.75" x2="835.62" y2="515.00" stroke="#1e1e1e" stroke-width="1.0" />
<line x1="846.53" y1="523.09" x2="834.84" y2="516.34" stroke="#444" stroke-width="0.6" />
<ellipse cx="850.80" cy="515.70" rx="5.60" ry="9.70" transform="rotate(29.999999999999986 850.80 515.70)" fill="none" stroke="#3c3c3c" stroke-width="0.6" />
<ellipse cx="850.80" cy="515.70" rx="5.60" ry="9.70" transform="rotate(29.999999999999986 850.80 515.70)" fill="#fff" stroke="#3c3c3c" stroke-width="0.8" />
<ellipse cx="850.80" cy="515.70" rx="5.60" ry="9.70" transform="rotate(30 850.80 515.70)" fill="#fff" stroke="#3c3c3c" stroke-width="0.8" />
<ellipse cx="851.10" cy="515.90" rx="4.50" ry="7.80" transform="rotate(30 851.10 515.90)" fill="#e0e0e0" stroke="#3c3c3c" stroke-width="0.7" />
<rect x="757.0999999999999" y="356" width="3.4" height="36.0" rx="1.2" fill="#e4e4e4" stroke="#666" stroke-width="0.7"/>
<path d="M753.5999999999999 345.6 L753.5999999999999 349.6 L755.0 351 L755.0 355.6 Q758.8 357.8 762.5999999999999 355.6 L762.5999999999999 351 L764.0 349.6 L764.0 345.6 Z" fill="#fff" stroke="#3c3c3c" stroke-width="0.8"/>
<ellipse cx="758.8" cy="345.4" rx="5.2" ry="2.6" fill="#fff" stroke="#3c3c3c" stroke-width="0.8"/>
<path d="M753.5999999999999 349.6 Q758.8 352.6 764.0 349.6" fill="none" stroke="#3c3c3c" stroke-width="0.7"/>
<path d="M755.0 351.2 Q758.8 353.4 762.5999999999999 351.2" fill="none" stroke="#3c3c3c" stroke-width="0.5"/>
<path d="M758.6 574.6 L758.6 583.6 Q762.6 586.6 766.6 583.6 L766.6 574.6 Z" fill="#f2f2f2" stroke="#3c3c3c" stroke-width="0.8"/>
<ellipse cx="762.6" cy="574.6" rx="4.0" ry="2.2" fill="#fff" stroke="#3c3c3c" stroke-width="0.8"/>
<path d="M758.6 580.6 Q762.6 583.6 766.6 580.6" fill="none" stroke="#3c3c3c" stroke-width="0.6"/>
<ellipse cx="699.64" cy="500.54" rx="8.42" ry="14.60" transform="rotate(-30 699.64 500.54)" fill="#fff" stroke="#3c3c3c" stroke-width="0.7" />
<path d="M703.30 515.28 L706.94 513.18 L692.34 487.89 L688.70 489.99 Z" fill="#fff" stroke="none" stroke-width="0.7" stroke-linejoin="round" />
<line x1="703.30" y1="515.28" x2="706.94" y2="513.18" stroke="#3c3c3c" stroke-width="0.7" />
<line x1="688.70" y1="489.99" x2="692.34" y2="487.89" stroke="#3c3c3c" stroke-width="0.7" />
<ellipse cx="696.00" cy="502.64" rx="8.42" ry="14.60" transform="rotate(-30 696.00 502.64)" fill="#fff" stroke="#3c3c3c" stroke-width="0.7" />
<ellipse cx="696.00" cy="502.64" rx="8.42" ry="14.60" transform="rotate(-30 696.00 502.64)" fill="#d0d0d0" stroke="#3c3c3c" stroke-width="1.0" />
<ellipse cx="696.40" cy="502.44" rx="7.15" ry="12.40" transform="rotate(-30 696.40 502.44)" fill="#fff" stroke="#3c3c3c" stroke-width="0.9" />
<ellipse cx="697.00" cy="502.04" rx="6.35" ry="11.00" transform="rotate(-30 697.00 502.04)" fill="#fff" stroke="#3c3c3c" stroke-width="0.6" />
<ellipse cx="670.14" cy="517.56" rx="12.00" ry="20.80" transform="rotate(-30 670.14 517.56)" fill="#dcdcdc" stroke="#3c3c3c" stroke-width="0.7" />
<path d="M675.00 538.77 L680.54 535.57 L659.74 499.54 L654.20 502.74 Z" fill="#dcdcdc" stroke="none" stroke-width="0.7" stroke-linejoin="round" />
<line x1="675.00" y1="538.77" x2="680.54" y2="535.57" stroke="#3c3c3c" stroke-width="0.7" />
<line x1="654.20" y1="502.74" x2="659.74" y2="499.54" stroke="#3c3c3c" stroke-width="0.7" />
<ellipse cx="664.60" cy="520.76" rx="12.00" ry="20.80" transform="rotate(-30 664.60 520.76)" fill="#fff" stroke="#3c3c3c" stroke-width="0.8" />
<ellipse cx="664.60" cy="520.76" rx="10.85" ry="18.80" transform="rotate(-30 664.60 520.76)" fill="#fff" stroke="#3c3c3c" stroke-width="0.7" />
<clipPath id="cup2"><ellipse cx="664.60" cy="520.76" rx="10.85" ry="18.8" transform="rotate(-30 664.60 520.76)"/></clipPath>
<g clip-path="url(#cup2)">
<rect x="639.6" y="495.8" width="50" height="50" fill="#e2e2e2"/>
<ellipse cx="670.20" cy="517.56" rx="10.73" ry="18.60" transform="rotate(-30 670.20 517.56)" fill="#fff" stroke="#555" stroke-width="0.6" />
</g>
<ellipse cx="664.60" cy="520.76" rx="10.85" ry="18.80" transform="rotate(-30 664.60 520.76)" fill="none" stroke="#3c3c3c" stroke-width="0.7" />
<ellipse cx="637.91" cy="536.15" rx="10.21" ry="17.70" transform="rotate(-30 637.91 536.15)" fill="#dcdcdc" stroke="#3c3c3c" stroke-width="0.7" />
<path d="M638.45 556.28 L646.76 551.48 L629.06 520.82 L620.75 525.62 Z" fill="#dcdcdc" stroke="none" stroke-width="0.7" stroke-linejoin="round" />
<line x1="638.45" y1="556.28" x2="646.76" y2="551.48" stroke="#3c3c3c" stroke-width="0.7" />
<line x1="620.75" y1="525.62" x2="629.06" y2="520.82" stroke="#3c3c3c" stroke-width="0.7" />
<ellipse cx="629.60" cy="540.95" rx="10.21" ry="17.70" transform="rotate(-30 629.60 540.95)" fill="#fff" stroke="#3c3c3c" stroke-width="0.7" />
<ellipse cx="629.60" cy="540.95" rx="10.21" ry="17.70" transform="rotate(-30 629.60 540.95)" fill="#fff" stroke="#3c3c3c" stroke-width="0.9" />
<ellipse cx="629.60" cy="540.95" rx="9.12" ry="15.80" transform="rotate(-30 629.60 540.95)" fill="#fff" stroke="#3c3c3c" stroke-width="0.6" />
<ellipse cx="629.60" cy="540.95" rx="7.27" ry="12.60" transform="rotate(-30 629.60 540.95)" fill="#dcdcdc" stroke="#3c3c3c" stroke-width="0.8" />
<ellipse cx="630.20" cy="540.65" rx="6.12" ry="10.60" transform="rotate(-30 630.20 540.65)" fill="#fff" stroke="#3c3c3c" stroke-width="0.8" />
<ellipse cx="632.60" cy="539.25" rx="5.77" ry="10.00" transform="rotate(-30 632.60 539.25)" fill="none" stroke="#555" stroke-width="0.5" />
<ellipse cx="604.20" cy="555.61" rx="8.14" ry="14.10" transform="rotate(-30 604.20 555.61)" fill="#fff" stroke="#3c3c3c" stroke-width="0.8" />
<ellipse cx="604.20" cy="555.61" rx="6.69" ry="11.60" transform="rotate(-30 604.20 555.61)" fill="#fff" stroke="#3c3c3c" stroke-width="0.8" />
<ellipse cx="569.56" cy="575.59" rx="16.16" ry="28.00" transform="rotate(-30 569.56 575.59)" fill="#fff" stroke="#3c3c3c" stroke-width="0.8" />
<ellipse cx="568.00" cy="576.49" rx="16.16" ry="28.00" transform="rotate(-30 568.00 576.49)" fill="#fff" stroke="#3c3c3c" stroke-width="0.9" />
<path d="M580.92 600.63 L579.24 601.20 L560.23 590.66 L560.58 590.55 Z" fill="#bdbdbd" stroke="none" stroke-width="0.7" stroke-linejoin="round" />
<path d="M579.24 601.20 L577.74 601.46 L559.86 590.73 L560.23 590.66 Z" fill="#e9e9e9" stroke="none" stroke-width="0.7" stroke-linejoin="round" />
<line x1="580.92" y1="600.63" x2="560.58" y2="590.55" stroke="#222" stroke-width="0.9" />
<line x1="579.24" y1="601.20" x2="560.23" y2="590.66" stroke="#444" stroke-width="0.6" />
<line x1="577.74" y1="601.46" x2="559.86" y2="590.73" stroke="#333" stroke-width="0.7" />
<path d="M574.84 601.37 L572.79 600.93 L558.23 590.58 L558.65 590.68 Z" fill="#bdbdbd" stroke="none" stroke-width="0.7" stroke-linejoin="round" />
<path d="M572.79 600.93 L571.04 600.34 L557.79 590.43 L558.23 590.58 Z" fill="#e9e9e9" stroke="none" stroke-width="0.7" stroke-linejoin="round" />
<line x1="574.84" y1="601.37" x2="558.65" y2="590.68" stroke="#222" stroke-width="0.9" />
<line x1="572.79" y1="600.93" x2="558.23" y2="590.58" stroke="#444" stroke-width="0.6" />
<line x1="571.04" y1="600.34" x2="557.79" y2="590.43" stroke="#333" stroke-width="0.7" />
<path d="M567.83 598.76 L565.68 597.36 L556.02 589.47 L556.47 589.77 Z" fill="#bdbdbd" stroke="none" stroke-width="0.7" stroke-linejoin="round" />
<path d="M565.68 597.36 L563.92 596.00 L555.58 589.13 L556.02 589.47 Z" fill="#e9e9e9" stroke="none" stroke-width="0.7" stroke-linejoin="round" />
<line x1="567.83" y1="598.76" x2="556.47" y2="589.77" stroke="#222" stroke-width="0.9" />
<line x1="565.68" y1="597.36" x2="556.02" y2="589.47" stroke="#444" stroke-width="0.6" />
<line x1="563.92" y1="596.00" x2="555.58" y2="589.13" stroke="#333" stroke-width="0.7" />
<path d="M560.84 593.14 L558.89 590.97 L553.92 587.49 L554.32 587.94 Z" fill="#bdbdbd" stroke="none" stroke-width="0.7" stroke-linejoin="round" />
<path d="M558.89 590.97 L557.36 589.03 L553.53 587.01 L553.92 587.49 Z" fill="#e9e9e9" stroke="none" stroke-width="0.7" stroke-linejoin="round" />
<line x1="560.84" y1="593.14" x2="554.32" y2="587.94" stroke="#222" stroke-width="0.9" />
<line x1="558.89" y1="590.97" x2="553.92" y2="587.49" stroke="#444" stroke-width="0.6" />
<line x1="557.36" y1="589.03" x2="553.53" y2="587.01" stroke="#333" stroke-width="0.7" />
<path d="M554.82 585.27 L553.33 582.63 L552.19 584.90 L552.49 585.45 Z" fill="#bdbdbd" stroke="none" stroke-width="0.7" stroke-linejoin="round" />
<path d="M553.33 582.63 L552.23 580.36 L551.91 584.34 L552.19 584.90 Z" fill="#e9e9e9" stroke="none" stroke-width="0.7" stroke-linejoin="round" />
<line x1="554.82" y1="585.27" x2="552.49" y2="585.45" stroke="#222" stroke-width="0.9" />
<line x1="553.33" y1="582.63" x2="552.19" y2="584.90" stroke="#444" stroke-width="0.6" />
<line x1="552.23" y1="580.36" x2="551.91" y2="584.34" stroke="#333" stroke-width="0.7" />
<path d="M550.59 576.22 L549.75 573.45 L551.08 582.05 L551.25 582.62 Z" fill="#bdbdbd" stroke="none" stroke-width="0.7" stroke-linejoin="round" />
<path d="M549.75 573.45 L549.23 571.17 L550.95 581.48 L551.08 582.05 Z" fill="#e9e9e9" stroke="none" stroke-width="0.7" stroke-linejoin="round" />
<line x1="550.59" y1="576.22" x2="551.25" y2="582.62" stroke="#222" stroke-width="0.9" />
<line x1="549.75" y1="573.45" x2="551.08" y2="582.05" stroke="#444" stroke-width="0.6" />
<line x1="549.23" y1="571.17" x2="550.95" y2="581.48" stroke="#333" stroke-width="0.7" />
<path d="M548.70 567.20 L548.64 564.69 L550.74 579.33 L550.74 579.85 Z" fill="#bdbdbd" stroke="none" stroke-width="0.7" stroke-linejoin="round" />
<path d="M548.64 564.69 L548.77 562.71 L550.76 578.84 L550.74 579.33 Z" fill="#e9e9e9" stroke="none" stroke-width="0.7" stroke-linejoin="round" />
<line x1="548.70" y1="567.20" x2="550.74" y2="579.85" stroke="#222" stroke-width="0.9" />
<line x1="548.64" y1="564.69" x2="550.74" y2="579.33" stroke="#444" stroke-width="0.6" />
<line x1="548.77" y1="562.71" x2="550.76" y2="578.84" stroke="#333" stroke-width="0.7" />
<path d="M549.42 559.44 L550.14 557.52 L551.20 577.11 L551.04 577.50 Z" fill="#bdbdbd" stroke="none" stroke-width="0.7" stroke-linejoin="round" />
<path d="M550.14 557.52 L550.90 556.10 L551.39 576.75 L551.20 577.11 Z" fill="#e9e9e9" stroke="none" stroke-width="0.7" stroke-linejoin="round" />
<line x1="549.42" y1="559.44" x2="551.04" y2="577.50" stroke="#222" stroke-width="0.9" />
<line x1="550.14" y1="557.52" x2="551.20" y2="577.11" stroke="#444" stroke-width="0.6" />
<line x1="550.90" y1="556.10" x2="551.39" y2="576.75" stroke="#333" stroke-width="0.7" />
<path d="M552.65 553.98 L554.05 552.92 L552.41 575.68 L552.12 575.89 Z" fill="#bdbdbd" stroke="none" stroke-width="0.7" stroke-linejoin="round" />
<path d="M554.05 552.92 L555.35 552.25 L552.73 575.51 L552.41 575.68 Z" fill="#e9e9e9" stroke="none" stroke-width="0.7" stroke-linejoin="round" />
<line x1="552.65" y1="553.98" x2="552.12" y2="575.89" stroke="#222" stroke-width="0.9" />
<line x1="554.05" y1="552.92" x2="552.41" y2="575.68" stroke="#444" stroke-width="0.6" />
<line x1="555.35" y1="552.25" x2="552.73" y2="575.51" stroke="#333" stroke-width="0.7" />
<path d="M557.95 551.57 L559.85 551.49 L554.21 575.24 L553.82 575.24 Z" fill="#bdbdbd" stroke="none" stroke-width="0.7" stroke-linejoin="round" />
<path d="M559.85 551.49 L561.50 551.67 L554.62 575.28 L554.21 575.24 Z" fill="#e9e9e9" stroke="none" stroke-width="0.7" stroke-linejoin="round" />
<line x1="557.95" y1="551.57" x2="553.82" y2="575.24" stroke="#222" stroke-width="0.9" />
<line x1="559.85" y1="551.49" x2="554.21" y2="575.24" stroke="#444" stroke-width="0.6" />
<line x1="561.50" y1="551.67" x2="554.62" y2="575.28" stroke="#333" stroke-width="0.7" />
<path d="M564.61 552.52 L566.74 553.45 L556.35 575.85 L555.91 575.64 Z" fill="#bdbdbd" stroke="none" stroke-width="0.7" stroke-linejoin="round" />
<path d="M566.74 553.45 L568.53 554.44 L556.80 576.09 L556.35 575.85 Z" fill="#e9e9e9" stroke="none" stroke-width="0.7" stroke-linejoin="round" />
<line x1="564.61" y1="552.52" x2="555.91" y2="575.64" stroke="#222" stroke-width="0.9" />
<line x1="566.74" y1="553.45" x2="556.35" y2="575.85" stroke="#444" stroke-width="0.6" />
<line x1="568.53" y1="554.44" x2="556.80" y2="576.09" stroke="#333" stroke-width="0.7" />
<path d="M571.73 556.70 L573.81 558.52 L558.54 577.42 L558.12 577.03 Z" fill="#bdbdbd" stroke="none" stroke-width="0.7" stroke-linejoin="round" />
<path d="M573.81 558.52 L575.49 560.20 L558.96 577.83 L558.54 577.42 Z" fill="#e9e9e9" stroke="none" stroke-width="0.7" stroke-linejoin="round" />
<line x1="571.73" y1="556.70" x2="558.12" y2="577.03" stroke="#222" stroke-width="0.9" />
<line x1="573.81" y1="558.52" x2="558.54" y2="577.42" stroke="#444" stroke-width="0.6" />
<line x1="575.49" y1="560.20" x2="558.96" y2="577.83" stroke="#333" stroke-width="0.7" />
<path d="M578.34 563.56 L580.09 566.01 L560.49 579.74 L560.14 579.23 Z" fill="#bdbdbd" stroke="none" stroke-width="0.7" stroke-linejoin="round" />
<path d="M580.09 566.01 L581.44 568.15 L560.83 580.27 L560.49 579.74 Z" fill="#e9e9e9" stroke="none" stroke-width="0.7" stroke-linejoin="round" />
<line x1="578.34" y1="563.56" x2="560.14" y2="579.23" stroke="#222" stroke-width="0.9" />
<line x1="580.09" y1="566.01" x2="560.49" y2="579.74" stroke="#444" stroke-width="0.6" />
<line x1="581.44" y1="568.15" x2="560.83" y2="580.27" stroke="#333" stroke-width="0.7" />
<path d="M583.56 572.17 L584.74 574.92 L561.94 582.51 L561.70 581.94 Z" fill="#bdbdbd" stroke="none" stroke-width="0.7" stroke-linejoin="round" />
<path d="M584.74 574.92 L585.57 577.23 L562.14 583.08 L561.94 582.51 Z" fill="#e9e9e9" stroke="none" stroke-width="0.7" stroke-linejoin="round" />
<line x1="583.56" y1="572.17" x2="561.70" y2="581.94" stroke="#222" stroke-width="0.9" />
<line x1="584.74" y1="574.92" x2="561.94" y2="582.51" stroke="#444" stroke-width="0.6" />
<line x1="585.57" y1="577.23" x2="562.14" y2="583.08" stroke="#333" stroke-width="0.7" />
<path d="M586.68 581.36 L587.13 584.05 L562.68 585.34 L562.59 584.78 Z" fill="#bdbdbd" stroke="none" stroke-width="0.7" stroke-linejoin="round" />
<path d="M587.13 584.05 L587.33 586.21 L562.73 585.88 L562.68 585.34 Z" fill="#e9e9e9" stroke="none" stroke-width="0.7" stroke-linejoin="round" />
<line x1="586.68" y1="581.36" x2="562.59" y2="584.78" stroke="#222" stroke-width="0.9" />
<line x1="587.13" y1="584.05" x2="562.68" y2="585.34" stroke="#444" stroke-width="0.6" />
<line x1="587.33" y1="586.21" x2="562.73" y2="585.88" stroke="#333" stroke-width="0.7" />
<path d="M587.27 589.90 L586.93 592.15 L562.62 587.85 L562.69 587.39 Z" fill="#bdbdbd" stroke="none" stroke-width="0.7" stroke-linejoin="round" />
<path d="M586.93 592.15 L586.48 593.88 L562.51 588.28 L562.62 587.85 Z" fill="#e9e9e9" stroke="none" stroke-width="0.7" stroke-linejoin="round" />
<line x1="587.27" y1="589.90" x2="562.69" y2="587.39" stroke="#222" stroke-width="0.9" />
<line x1="586.93" y1="592.15" x2="562.62" y2="587.85" stroke="#444" stroke-width="0.6" />
<line x1="586.48" y1="593.88" x2="562.51" y2="588.28" stroke="#333" stroke-width="0.7" />
<path d="M585.26 596.62 L584.18 598.14 L561.76 589.71 L561.99 589.40 Z" fill="#bdbdbd" stroke="none" stroke-width="0.7" stroke-linejoin="round" />
<path d="M584.18 598.14 L583.13 599.20 L561.50 589.98 L561.76 589.71 Z" fill="#e9e9e9" stroke="none" stroke-width="0.7" stroke-linejoin="round" />
<line x1="585.26" y1="596.62" x2="561.99" y2="589.40" stroke="#222" stroke-width="0.9" />
<line x1="584.18" y1="598.14" x2="561.76" y2="589.71" stroke="#444" stroke-width="0.6" />
<line x1="583.13" y1="599.20" x2="561.50" y2="589.98" stroke="#333" stroke-width="0.7" />
<ellipse cx="556.74" cy="582.99" rx="4.90" ry="8.50" transform="rotate(-30 556.74 582.99)" fill="#fff" stroke="#3c3c3c" stroke-width="0.8" />
<line x1="560.75" y1="590.48" x2="558.95" y2="587.11" stroke="#444" stroke-width="0.6" />
<line x1="558.86" y1="590.71" x2="557.91" y2="587.24" stroke="#444" stroke-width="0.6" />
<line x1="556.69" y1="589.90" x2="556.71" y2="586.79" stroke="#444" stroke-width="0.6" />
<line x1="554.52" y1="588.16" x2="555.52" y2="585.83" stroke="#444" stroke-width="0.6" />
<line x1="552.65" y1="585.72" x2="554.49" y2="584.49" stroke="#444" stroke-width="0.6" />
<line x1="551.34" y1="582.91" x2="553.77" y2="582.95" stroke="#444" stroke-width="0.6" />
<line x1="550.75" y1="580.11" x2="553.45" y2="581.41" stroke="#444" stroke-width="0.6" />
<line x1="550.98" y1="577.70" x2="553.57" y2="580.08" stroke="#444" stroke-width="0.6" />
<line x1="551.98" y1="576.01" x2="554.12" y2="579.15" stroke="#444" stroke-width="0.6" />
<line x1="553.62" y1="575.26" x2="555.03" y2="578.74" stroke="#444" stroke-width="0.6" />
<line x1="555.69" y1="575.56" x2="556.16" y2="578.90" stroke="#444" stroke-width="0.6" />
<line x1="557.90" y1="576.85" x2="557.38" y2="579.62" stroke="#444" stroke-width="0.6" />
<line x1="559.95" y1="578.98" x2="558.51" y2="580.79" stroke="#444" stroke-width="0.6" />
<line x1="561.57" y1="581.65" x2="559.40" y2="582.26" stroke="#444" stroke-width="0.6" />
<line x1="562.54" y1="584.50" x2="559.93" y2="583.83" stroke="#444" stroke-width="0.6" />
<line x1="562.72" y1="587.15" x2="560.03" y2="585.28" stroke="#444" stroke-width="0.6" />
<line x1="562.10" y1="589.24" x2="559.69" y2="586.43" stroke="#444" stroke-width="0.6" />
<ellipse cx="555.70" cy="583.59" rx="2.70" ry="4.68" transform="rotate(-30 555.70 583.59)" fill="#e4e4e4" stroke="#3c3c3c" stroke-width="0.7" />
<ellipse cx="555.70" cy="583.59" rx="1.57" ry="2.72" transform="rotate(-30 555.70 583.59)" fill="#fff" stroke="#3c3c3c" stroke-width="0.6" />
<ellipse cx="531.87" cy="597.30" rx="5.54" ry="9.60" transform="rotate(-29.999999999999993 531.87 597.30)" fill="#fff" stroke="#3c3c3c" stroke-width="0.7" />
<path d="M509.39 621.36 L536.67 605.61 L527.07 588.98 L499.79 604.73 Z" fill="#fff" stroke="none" stroke-width="0.7" stroke-linejoin="round" />
<line x1="509.39" y1="621.36" x2="536.67" y2="605.61" stroke="#3c3c3c" stroke-width="0.7" />
<line x1="499.79" y1="604.73" x2="527.07" y2="588.98" stroke="#3c3c3c" stroke-width="0.7" />
<path d="M501.04 606.89 L528.31 591.14 L529.27 592.81 L502.00 608.56 Z" fill="#e4e4e4" stroke="none" stroke-width="0.7" stroke-linejoin="round" />
<line x1="501.04" y1="606.89" x2="528.31" y2="591.14" stroke="#444" stroke-width="0.6" />
<line x1="502.00" y1="608.56" x2="529.27" y2="592.81" stroke="#777" stroke-width="0.45" />
<path d="M503.15 610.55 L530.43 594.80 L531.39 596.46 L504.11 612.21 Z" fill="#e4e4e4" stroke="none" stroke-width="0.7" stroke-linejoin="round" />
<line x1="503.15" y1="610.55" x2="530.43" y2="594.80" stroke="#444" stroke-width="0.6" />
<line x1="504.11" y1="612.21" x2="531.39" y2="596.46" stroke="#777" stroke-width="0.45" />
<path d="M505.26 614.21 L532.54 598.46 L533.50 600.12 L506.22 615.87 Z" fill="#e4e4e4" stroke="none" stroke-width="0.7" stroke-linejoin="round" />
<line x1="505.26" y1="614.21" x2="532.54" y2="598.46" stroke="#444" stroke-width="0.6" />
<line x1="506.22" y1="615.87" x2="533.50" y2="600.12" stroke="#777" stroke-width="0.45" />
<path d="M507.37 617.87 L534.65 602.12 L535.61 603.78 L508.33 619.53 Z" fill="#e4e4e4" stroke="none" stroke-width="0.7" stroke-linejoin="round" />
<line x1="507.37" y1="617.87" x2="534.65" y2="602.12" stroke="#444" stroke-width="0.6" />
<line x1="508.33" y1="619.53" x2="535.61" y2="603.78" stroke="#777" stroke-width="0.45" />
<ellipse cx="504.59" cy="613.05" rx="5.54" ry="9.60" transform="rotate(-29.999999999999993 504.59 613.05)" fill="none" stroke="#3c3c3c" stroke-width="0.6" />
<ellipse cx="504.59" cy="613.05" rx="6.12" ry="10.60" transform="rotate(-29.999999999999993 504.59 613.05)" fill="#fff" stroke="#3c3c3c" stroke-width="0.7" />
<path d="M494.30 631.23 L509.89 622.23 L499.29 603.87 L483.70 612.87 Z" fill="#fff" stroke="none" stroke-width="0.7" stroke-linejoin="round" />
<path d="M494.30 631.23 L509.89 622.23 L505.91 615.34 L490.32 624.34 Z" fill="#dcdcdc" stroke="none" stroke-width="0.7" stroke-linejoin="round" />
<line x1="494.30" y1="631.23" x2="509.89" y2="622.23" stroke="#3c3c3c" stroke-width="0.7" />
<line x1="483.70" y1="612.87" x2="499.29" y2="603.87" stroke="#3c3c3c" stroke-width="0.7" />
<ellipse cx="489.00" cy="622.05" rx="6.12" ry="10.60" transform="rotate(-29.999999999999993 489.00 622.05)" fill="none" stroke="#3c3c3c" stroke-width="0.6" />
<ellipse cx="489.00" cy="622.05" rx="6.92" ry="12.00" transform="rotate(-29.999999999999993 489.00 622.05)" fill="#fff" stroke="#3c3c3c" stroke-width="0.7" />
<path d="M476.81 642.94 L495.00 632.44 L483.00 611.65 L464.81 622.15 Z" fill="#fff" stroke="none" stroke-width="0.7" stroke-linejoin="round" />
<line x1="476.81" y1="642.94" x2="495.00" y2="632.44" stroke="#3c3c3c" stroke-width="0.7" />
<line x1="464.81" y1="622.15" x2="483.00" y2="611.65" stroke="#3c3c3c" stroke-width="0.7" />
<path d="M466.37 624.86 L484.56 614.36 L485.76 616.43 L467.57 626.93 Z" fill="#e4e4e4" stroke="none" stroke-width="0.7" stroke-linejoin="round" />
<line x1="466.37" y1="624.86" x2="484.56" y2="614.36" stroke="#444" stroke-width="0.6" />
<line x1="467.57" y1="626.93" x2="485.76" y2="616.43" stroke="#777" stroke-width="0.45" />
<path d="M469.01 629.43 L487.20 618.93 L488.40 621.01 L470.21 631.51 Z" fill="#e4e4e4" stroke="none" stroke-width="0.7" stroke-linejoin="round" />
<line x1="469.01" y1="629.43" x2="487.20" y2="618.93" stroke="#444" stroke-width="0.6" />
<line x1="470.21" y1="631.51" x2="488.40" y2="621.01" stroke="#777" stroke-width="0.45" />
<path d="M471.65 634.00 L489.84 623.50 L491.04 625.58 L472.85 636.08 Z" fill="#e4e4e4" stroke="none" stroke-width="0.7" stroke-linejoin="round" />
<line x1="471.65" y1="634.00" x2="489.84" y2="623.50" stroke="#444" stroke-width="0.6" />
<line x1="472.85" y1="636.08" x2="491.04" y2="625.58" stroke="#777" stroke-width="0.45" />
<path d="M474.29 638.57 L492.48 628.07 L493.68 630.15 L475.49 640.65 Z" fill="#e4e4e4" stroke="none" stroke-width="0.7" stroke-linejoin="round" />
<line x1="474.29" y1="638.57" x2="492.48" y2="628.07" stroke="#444" stroke-width="0.6" />
<line x1="475.49" y1="640.65" x2="493.68" y2="630.15" stroke="#777" stroke-width="0.45" />
<ellipse cx="470.81" cy="632.55" rx="6.92" ry="12.00" transform="rotate(-29.999999999999993 470.81 632.55)" fill="none" stroke="#3c3c3c" stroke-width="0.6" />
<ellipse cx="470.81" cy="632.55" rx="6.00" ry="10.40" transform="rotate(-29.999999999999993 470.81 632.55)" fill="#fff" stroke="#3c3c3c" stroke-width="0.7" />
<path d="M454.36 654.05 L476.01 641.55 L465.61 623.54 L443.96 636.04 Z" fill="#fff" stroke="none" stroke-width="0.7" stroke-linejoin="round" />
<path d="M454.36 654.05 L476.01 641.55 L472.11 634.80 L450.46 647.30 Z" fill="#dcdcdc" stroke="none" stroke-width="0.7" stroke-linejoin="round" />
<line x1="454.36" y1="654.05" x2="476.01" y2="641.55" stroke="#3c3c3c" stroke-width="0.7" />
<line x1="443.96" y1="636.04" x2="465.61" y2="623.54" stroke="#3c3c3c" stroke-width="0.7" />
<ellipse cx="449.16" cy="645.05" rx="6.00" ry="10.40" transform="rotate(-29.999999999999993 449.16 645.05)" fill="none" stroke="#3c3c3c" stroke-width="0.6" />
<ellipse cx="449.16" cy="645.05" rx="5.42" ry="9.40" transform="rotate(-29.999999999999993 449.16 645.05)" fill="#fff" stroke="#3c3c3c" stroke-width="0.7" />
<path d="M449.53 655.69 L453.86 653.19 L444.46 636.91 L440.13 639.41 Z" fill="#fff" stroke="none" stroke-width="0.7" stroke-linejoin="round" />
<line x1="449.53" y1="655.69" x2="453.86" y2="653.19" stroke="#3c3c3c" stroke-width="0.7" />
<line x1="440.13" y1="639.41" x2="444.46" y2="636.91" stroke="#3c3c3c" stroke-width="0.7" />
<ellipse cx="444.83" cy="647.55" rx="5.42" ry="9.40" transform="rotate(-29.999999999999993 444.83 647.55)" fill="none" stroke="#3c3c3c" stroke-width="0.6" />
<ellipse cx="444.83" cy="647.55" rx="7.04" ry="12.20" transform="rotate(-29.999999999999993 444.83 647.55)" fill="#fff" stroke="#3c3c3c" stroke-width="0.7" />
<path d="M447.47 660.11 L450.93 658.11 L438.73 636.98 L435.27 638.98 Z" fill="#fff" stroke="none" stroke-width="0.7" stroke-linejoin="round" />
<line x1="447.47" y1="660.11" x2="450.93" y2="658.11" stroke="#3c3c3c" stroke-width="0.7" />
<line x1="435.27" y1="638.98" x2="438.73" y2="636.98" stroke="#3c3c3c" stroke-width="0.7" />
<ellipse cx="441.37" cy="649.55" rx="7.04" ry="12.20" transform="rotate(-29.999999999999993 441.37 649.55)" fill="none" stroke="#3c3c3c" stroke-width="0.6" />
<ellipse cx="441.37" cy="649.55" rx="5.54" ry="9.60" transform="rotate(-29.999999999999993 441.37 649.55)" fill="#fff" stroke="#3c3c3c" stroke-width="0.7" />
<path d="M438.37 662.36 L446.17 657.86 L436.57 641.23 L428.77 645.73 Z" fill="#fff" stroke="none" stroke-width="0.7" stroke-linejoin="round" />
<path d="M438.37 662.36 L446.17 657.86 L442.57 651.62 L434.77 656.12 Z" fill="#dcdcdc" stroke="none" stroke-width="0.7" stroke-linejoin="round" />
<line x1="438.37" y1="662.36" x2="446.17" y2="657.86" stroke="#3c3c3c" stroke-width="0.7" />
<line x1="428.77" y1="645.73" x2="436.57" y2="641.23" stroke="#3c3c3c" stroke-width="0.7" />
<ellipse cx="433.57" cy="654.05" rx="5.54" ry="9.60" transform="rotate(-29.999999999999993 433.57 654.05)" fill="none" stroke="#3c3c3c" stroke-width="0.6" />
<ellipse cx="433.57" cy="654.05" rx="5.37" ry="9.30" transform="rotate(-29.999999999999993 433.57 654.05)" fill="#fff" stroke="#3c3c3c" stroke-width="0.7" />
<path d="M401.85 683.10 L438.22 662.10 L428.92 645.99 L392.55 666.99 Z" fill="#fff" stroke="none" stroke-width="0.7" stroke-linejoin="round" />
<line x1="401.85" y1="683.10" x2="438.22" y2="662.10" stroke="#3c3c3c" stroke-width="0.7" />
<line x1="392.55" y1="666.99" x2="428.92" y2="645.99" stroke="#3c3c3c" stroke-width="0.7" />
<path d="M393.76 669.09 L430.13 648.09 L431.06 649.70 L394.69 670.70 Z" fill="#e4e4e4" stroke="none" stroke-width="0.7" stroke-linejoin="round" />
<line x1="393.76" y1="669.09" x2="430.13" y2="648.09" stroke="#444" stroke-width="0.6" />
<line x1="394.69" y1="670.70" x2="431.06" y2="649.70" stroke="#777" stroke-width="0.45" />
<path d="M395.81 672.63 L432.18 651.63 L433.11 653.24 L396.74 674.24 Z" fill="#e4e4e4" stroke="none" stroke-width="0.7" stroke-linejoin="round" />
<line x1="395.81" y1="672.63" x2="432.18" y2="651.63" stroke="#444" stroke-width="0.6" />
<line x1="396.74" y1="674.24" x2="433.11" y2="653.24" stroke="#777" stroke-width="0.45" />
<path d="M397.85 676.17 L434.22 655.17 L435.15 656.78 L398.78 677.78 Z" fill="#e4e4e4" stroke="none" stroke-width="0.7" stroke-linejoin="round" />
<line x1="397.85" y1="676.17" x2="434.22" y2="655.17" stroke="#444" stroke-width="0.6" />
<line x1="398.78" y1="677.78" x2="435.15" y2="656.78" stroke="#777" stroke-width="0.45" />
<path d="M399.90 679.72 L436.27 658.72 L437.20 660.33 L400.83 681.33 Z" fill="#e4e4e4" stroke="none" stroke-width="0.7" stroke-linejoin="round" />
<line x1="399.90" y1="679.72" x2="436.27" y2="658.72" stroke="#444" stroke-width="0.6" />
<line x1="400.83" y1="681.33" x2="437.20" y2="660.33" stroke="#777" stroke-width="0.45" />
<ellipse cx="397.20" cy="675.05" rx="5.37" ry="9.30" transform="rotate(-29.999999999999993 397.20 675.05)" fill="none" stroke="#3c3c3c" stroke-width="0.6" />
<ellipse cx="397.20" cy="675.05" rx="5.37" ry="9.30" transform="rotate(-29.999999999999993 397.20 675.05)" fill="#fff" stroke="#3c3c3c" stroke-width="0.8" />
<ellipse cx="397.20" cy="675.05" rx="3.81" ry="6.60" transform="rotate(-30 397.20 675.05)" fill="#fff" stroke="#3c3c3c" stroke-width="0.6" />
<ellipse cx="368.93" cy="691.36" rx="12.12" ry="21.00" transform="rotate(-30 368.93 691.36)" fill="#dcdcdc" stroke="#3c3c3c" stroke-width="0.7" />
<path d="M372.50 713.54 L379.43 709.54 L358.43 673.17 L351.50 677.17 Z" fill="#dcdcdc" stroke="none" stroke-width="0.7" stroke-linejoin="round" />
<line x1="372.50" y1="713.54" x2="379.43" y2="709.54" stroke="#3c3c3c" stroke-width="0.7" />
<line x1="351.50" y1="677.17" x2="358.43" y2="673.17" stroke="#3c3c3c" stroke-width="0.7" />
<ellipse cx="362.00" cy="695.36" rx="12.12" ry="21.00" transform="rotate(-30 362.00 695.36)" fill="#fff" stroke="#3c3c3c" stroke-width="0.7" />
<ellipse cx="362.00" cy="695.36" rx="12.12" ry="21.00" transform="rotate(-30 362.00 695.36)" fill="#fff" stroke="#3c3c3c" stroke-width="0.9" />
<ellipse cx="362.00" cy="695.36" rx="10.85" ry="18.80" transform="rotate(-30 362.00 695.36)" fill="#fff" stroke="#666" stroke-width="0.5" />
<ellipse cx="362.00" cy="695.36" rx="8.77" ry="15.20" transform="rotate(-30 362.00 695.36)" fill="#fff" stroke="#3c3c3c" stroke-width="0.8" />
<ellipse cx="362.00" cy="695.36" rx="7.62" ry="13.20" transform="rotate(-30 362.00 695.36)" fill="#fff" stroke="#3c3c3c" stroke-width="0.7" />
<ellipse cx="362.00" cy="695.36" rx="6.23" ry="10.80" transform="rotate(-30 362.00 695.36)" fill="#dcdcdc" stroke="#3c3c3c" stroke-width="0.8" />
<ellipse cx="363.00" cy="694.76" rx="4.96" ry="8.60" transform="rotate(-30 363.00 694.76)" fill="#fff" stroke="#3c3c3c" stroke-width="0.8" />
<ellipse cx="333.50" cy="711.80" rx="12.00" ry="20.80" transform="rotate(-30 333.50 711.80)" fill="#fff" stroke="#3c3c3c" stroke-width="0.9" />
<ellipse cx="333.50" cy="711.80" rx="10.85" ry="18.80" transform="rotate(-30 333.50 711.80)" fill="#fff" stroke="#3c3c3c" stroke-width="0.9" />
<ellipse cx="311.12" cy="724.71" rx="8.77" ry="15.20" transform="rotate(-30 311.12 724.71)" fill="#dcdcdc" stroke="#3c3c3c" stroke-width="0.7" />
<path d="M315.60 739.68 L318.72 737.88 L303.52 711.55 L300.40 713.35 Z" fill="#dcdcdc" stroke="none" stroke-width="0.7" stroke-linejoin="round" />
<line x1="315.60" y1="739.68" x2="318.72" y2="737.88" stroke="#3c3c3c" stroke-width="0.7" />
<line x1="300.40" y1="713.35" x2="303.52" y2="711.55" stroke="#3c3c3c" stroke-width="0.7" />
<ellipse cx="308.00" cy="726.51" rx="8.77" ry="15.20" transform="rotate(-30 308.00 726.51)" fill="#fff" stroke="#3c3c3c" stroke-width="0.7" />
<ellipse cx="308.00" cy="726.51" rx="8.77" ry="15.20" transform="rotate(-30 308.00 726.51)" fill="#fff" stroke="#3c3c3c" stroke-width="0.9" />
<ellipse cx="308.30" cy="726.31" rx="7.27" ry="12.60" transform="rotate(-30 308.30 726.31)" fill="#fff" stroke="#3c3c3c" stroke-width="0.9" />
<ellipse cx="309.00" cy="725.91" rx="6.46" ry="11.20" transform="rotate(-30 309.00 725.91)" fill="#fff" stroke="#3c3c3c" stroke-width="0.6" />
<rect x="-28" y="-28.5" width="56" height="57" rx="12" ry="12" transform="matrix(0.866 0.5 0 1 269.60 752.07)" fill="#dcdcdc" stroke="#3c3c3c" stroke-width="0.8" vector-effect="non-scaling-stroke"/>
<rect x="-28" y="-28.5" width="56" height="57" rx="12" ry="12" transform="matrix(0.866 0.5 0 1 267.00 750.57)" fill="#fff" stroke="#3c3c3c" stroke-width="0.8" vector-effect="non-scaling-stroke"/>
<ellipse cx="249.25" cy="719.32" rx="1.96" ry="3.40" transform="rotate(-30 249.25 719.32)" fill="#fff" stroke="#3c3c3c" stroke-width="0.7" />
<ellipse cx="284.75" cy="739.82" rx="1.96" ry="3.40" transform="rotate(-30 284.75 739.82)" fill="#fff" stroke="#3c3c3c" stroke-width="0.7" />
<ellipse cx="284.75" cy="781.82" rx="1.96" ry="3.40" transform="rotate(-30 284.75 781.82)" fill="#fff" stroke="#3c3c3c" stroke-width="0.7" />
<ellipse cx="249.25" cy="761.32" rx="1.96" ry="3.40" transform="rotate(-30 249.25 761.32)" fill="#fff" stroke="#3c3c3c" stroke-width="0.7" />
<ellipse cx="264.80" cy="751.87" rx="14.42" ry="25.00" transform="rotate(-30 264.80 751.87)" fill="#fff" stroke="#666" stroke-width="0.6" />
<ellipse cx="263.60" cy="752.57" rx="14.42" ry="25.00" transform="rotate(-30 263.60 752.57)" fill="#fff" stroke="#3c3c3c" stroke-width="0.8" />
<ellipse cx="277.06" cy="767.59" rx="1.15" ry="2.00" transform="rotate(-30 277.06 767.59)" fill="#fff" stroke="#3c3c3c" stroke-width="0.6" />
<ellipse cx="275.76" cy="749.76" rx="1.15" ry="2.00" transform="rotate(-30 275.76 749.76)" fill="#fff" stroke="#3c3c3c" stroke-width="0.6" />
<ellipse cx="262.30" cy="734.75" rx="1.15" ry="2.00" transform="rotate(-30 262.30 734.75)" fill="#fff" stroke="#3c3c3c" stroke-width="0.6" />
<ellipse cx="250.14" cy="737.55" rx="1.15" ry="2.00" transform="rotate(-30 250.14 737.55)" fill="#fff" stroke="#3c3c3c" stroke-width="0.6" />
<ellipse cx="251.44" cy="755.38" rx="1.15" ry="2.00" transform="rotate(-30 251.44 755.38)" fill="#fff" stroke="#3c3c3c" stroke-width="0.6" />
<ellipse cx="264.90" cy="770.40" rx="1.15" ry="2.00" transform="rotate(-30 264.90 770.40)" fill="#fff" stroke="#3c3c3c" stroke-width="0.6" />
<ellipse cx="263.60" cy="752.57" rx="6.92" ry="12.00" transform="rotate(-30 263.60 752.57)" fill="#fff" stroke="#3c3c3c" stroke-width="1.0" />
<path d="M262.6 741.6 Q267.1 751.6 268.8 761.8" fill="none" stroke="#3c3c3c" stroke-width="0.6" stroke-linejoin="round" stroke-linecap="round" />
<line x1="258.00" y1="745.97" x2="262.40" y2="743.47" stroke="#333" stroke-width="0.8" />
<line x1="258.50" y1="748.27" x2="263.15" y2="745.77" stroke="#333" stroke-width="0.8" />
<line x1="259.00" y1="750.57" x2="263.90" y2="748.07" stroke="#333" stroke-width="0.8" />
<line x1="259.50" y1="752.87" x2="264.65" y2="750.37" stroke="#333" stroke-width="0.8" />
<line x1="260.00" y1="755.17" x2="265.40" y2="752.67" stroke="#333" stroke-width="0.8" />
<line x1="260.50" y1="757.47" x2="266.15" y2="754.97" stroke="#333" stroke-width="0.8" />
<line x1="261.00" y1="759.77" x2="266.90" y2="757.27" stroke="#333" stroke-width="0.8" />
<ellipse cx="207.76" cy="744.00" rx="1.90" ry="3.30" transform="rotate(-30 207.76 744.00)" fill="#fff" stroke="#3c3c3c" stroke-width="0.7" />
<path d="M199.89 752.36 L209.41 746.86 L206.11 741.14 L196.59 746.64 Z" fill="#fff" stroke="none" stroke-width="0.7" stroke-linejoin="round" />
<path d="M199.89 752.36 L209.41 746.86 L208.01 744.43 L198.48 749.93 Z" fill="#e4e4e4" stroke="none" stroke-width="0.7" stroke-linejoin="round" />
<line x1="199.89" y1="752.36" x2="209.41" y2="746.86" stroke="#3c3c3c" stroke-width="0.7" />
<line x1="196.59" y1="746.64" x2="206.11" y2="741.14" stroke="#3c3c3c" stroke-width="0.7" />
<path d="M190.50 751.44 L190.89 746.46 L194.53 744.36 L198.63 744.52 L202.34 749.66 L201.94 754.64 L198.31 756.74 L194.21 756.58 Z" fill="#fff" stroke="#3c3c3c" stroke-width="0.7" stroke-linejoin="round" />
<line x1="198.31" y1="756.74" x2="201.94" y2="754.64" stroke="#3c3c3c" stroke-width="0.595" />
<line x1="198.70" y1="751.76" x2="202.34" y2="749.66" stroke="#3c3c3c" stroke-width="0.595" />
<line x1="194.99" y1="746.62" x2="198.63" y2="744.52" stroke="#3c3c3c" stroke-width="0.595" />
<line x1="190.89" y1="746.46" x2="194.53" y2="744.36" stroke="#3c3c3c" stroke-width="0.595" />
<path d="M198.31 756.74 L198.70 751.76 L194.99 746.62 L190.89 746.46 L190.50 751.44 L194.21 756.58 Z" fill="#fff" stroke="#3c3c3c" stroke-width="0.7" stroke-linejoin="round" />
<ellipse cx="207.76" cy="785.40" rx="1.90" ry="3.30" transform="rotate(-30 207.76 785.40)" fill="#fff" stroke="#3c3c3c" stroke-width="0.7" />
<path d="M199.89 793.76 L209.41 788.26 L206.11 782.54 L196.59 788.04 Z" fill="#fff" stroke="none" stroke-width="0.7" stroke-linejoin="round" />
<path d="M199.89 793.76 L209.41 788.26 L208.01 785.83 L198.48 791.33 Z" fill="#e4e4e4" stroke="none" stroke-width="0.7" stroke-linejoin="round" />
<line x1="199.89" y1="793.76" x2="209.41" y2="788.26" stroke="#3c3c3c" stroke-width="0.7" />
<line x1="196.59" y1="788.04" x2="206.11" y2="782.54" stroke="#3c3c3c" stroke-width="0.7" />
<path d="M190.50 792.84 L190.89 787.86 L194.53 785.76 L198.63 785.92 L202.34 791.06 L201.94 796.04 L198.31 798.14 L194.21 797.98 Z" fill="#fff" stroke="#3c3c3c" stroke-width="0.7" stroke-linejoin="round" />
<line x1="198.31" y1="798.14" x2="201.94" y2="796.04" stroke="#3c3c3c" stroke-width="0.595" />
<line x1="198.70" y1="793.16" x2="202.34" y2="791.06" stroke="#3c3c3c" stroke-width="0.595" />
<line x1="194.99" y1="788.02" x2="198.63" y2="785.92" stroke="#3c3c3c" stroke-width="0.595" />
<line x1="190.89" y1="787.86" x2="194.53" y2="785.76" stroke="#3c3c3c" stroke-width="0.595" />
<path d="M198.31 798.14 L198.70 793.16 L194.99 788.02 L190.89 787.86 L190.50 792.84 L194.21 797.98 Z" fill="#fff" stroke="#3c3c3c" stroke-width="0.7" stroke-linejoin="round" />
<ellipse cx="247.66" cy="763.15" rx="1.90" ry="3.30" transform="rotate(-30 247.66 763.15)" fill="#fff" stroke="#3c3c3c" stroke-width="0.7" />
<path d="M235.89 773.76 L249.31 766.01 L246.01 760.29 L232.59 768.04 Z" fill="#fff" stroke="none" stroke-width="0.7" stroke-linejoin="round" />
<path d="M235.89 773.76 L249.31 766.01 L247.91 763.58 L234.48 771.33 Z" fill="#e4e4e4" stroke="none" stroke-width="0.7" stroke-linejoin="round" />
<line x1="235.89" y1="773.76" x2="249.31" y2="766.01" stroke="#3c3c3c" stroke-width="0.7" />
<line x1="232.59" y1="768.04" x2="246.01" y2="760.29" stroke="#3c3c3c" stroke-width="0.7" />
<path d="M226.50 772.84 L226.89 767.86 L230.53 765.76 L234.63 765.92 L238.34 771.06 L237.94 776.04 L234.31 778.14 L230.21 777.98 Z" fill="#fff" stroke="#3c3c3c" stroke-width="0.7" stroke-linejoin="round" />
<line x1="234.31" y1="778.14" x2="237.94" y2="776.04" stroke="#3c3c3c" stroke-width="0.595" />
<line x1="234.70" y1="773.16" x2="238.34" y2="771.06" stroke="#3c3c3c" stroke-width="0.595" />
<line x1="230.99" y1="768.02" x2="234.63" y2="765.92" stroke="#3c3c3c" stroke-width="0.595" />
<line x1="226.89" y1="767.86" x2="230.53" y2="765.76" stroke="#3c3c3c" stroke-width="0.595" />
<path d="M234.31 778.14 L234.70 773.16 L230.99 768.02 L226.89 767.86 L226.50 772.84 L230.21 777.98 Z" fill="#fff" stroke="#3c3c3c" stroke-width="0.7" stroke-linejoin="round" />
<ellipse cx="243.76" cy="806.60" rx="1.90" ry="3.30" transform="rotate(-30 243.76 806.60)" fill="#fff" stroke="#3c3c3c" stroke-width="0.7" />
<path d="M235.89 814.96 L245.41 809.46 L242.11 803.74 L232.59 809.24 Z" fill="#fff" stroke="none" stroke-width="0.7" stroke-linejoin="round" />
<path d="M235.89 814.96 L245.41 809.46 L244.01 807.03 L234.48 812.53 Z" fill="#e4e4e4" stroke="none" stroke-width="0.7" stroke-linejoin="round" />
<line x1="235.89" y1="814.96" x2="245.41" y2="809.46" stroke="#3c3c3c" stroke-width="0.7" />
<line x1="232.59" y1="809.24" x2="242.11" y2="803.74" stroke="#3c3c3c" stroke-width="0.7" />
<path d="M226.50 814.04 L226.89 809.06 L230.53 806.96 L234.63 807.12 L238.34 812.26 L237.94 817.24 L234.31 819.34 L230.21 819.18 Z" fill="#fff" stroke="#3c3c3c" stroke-width="0.7" stroke-linejoin="round" />
<line x1="234.31" y1="819.34" x2="237.94" y2="817.24" stroke="#3c3c3c" stroke-width="0.595" />
<line x1="234.70" y1="814.36" x2="238.34" y2="812.26" stroke="#3c3c3c" stroke-width="0.595" />
<line x1="230.99" y1="809.22" x2="234.63" y2="807.12" stroke="#3c3c3c" stroke-width="0.595" />
<line x1="226.89" y1="809.06" x2="230.53" y2="806.96" stroke="#3c3c3c" stroke-width="0.595" />
<path d="M234.31 819.34 L234.70 814.36 L230.99 809.22 L226.89 809.06 L226.50 814.04 L230.21 819.18 Z" fill="#fff" stroke="#3c3c3c" stroke-width="0.7" stroke-linejoin="round" />
<line x1="246.20" y1="166.92" x2="251.80" y2="170.15" stroke="#000" stroke-width="2.0" />
<line x1="255.60" y1="172.35" x2="261.20" y2="175.58" stroke="#000" stroke-width="2.0" />
<line x1="274.40" y1="183.19" x2="280.00" y2="186.43" stroke="#000" stroke-width="2.0" />
<line x1="293.20" y1="194.04" x2="298.80" y2="197.27" stroke="#000" stroke-width="2.0" />
<line x1="323.00" y1="211.24" x2="327.00" y2="213.54" stroke="#000" stroke-width="2.0" />
<line x1="330.80" y1="215.74" x2="336.40" y2="218.97" stroke="#000" stroke-width="2.0" />
<line x1="396.60" y1="253.70" x2="402.20" y2="256.94" stroke="#000" stroke-width="2.0" />
<line x1="406.00" y1="259.13" x2="411.60" y2="262.36" stroke="#000" stroke-width="2.0" />
<line x1="415.40" y1="264.55" x2="421.00" y2="267.78" stroke="#000" stroke-width="2.0" />
<line x1="424.80" y1="269.98" x2="430.40" y2="273.21" stroke="#000" stroke-width="2.0" />
<line x1="443.60" y1="280.82" x2="449.20" y2="284.05" stroke="#000" stroke-width="2.0" />
<line x1="453.00" y1="286.25" x2="458.60" y2="289.48" stroke="#000" stroke-width="2.0" />
<line x1="481.20" y1="302.52" x2="486.80" y2="305.75" stroke="#000" stroke-width="2.0" />
<line x1="490.60" y1="307.94" x2="496.20" y2="311.17" stroke="#000" stroke-width="2.0" />
<line x1="509.40" y1="318.79" x2="515.00" y2="322.02" stroke="#000" stroke-width="2.0" />
<line x1="641.50" y1="395.01" x2="656.00" y2="403.38" stroke="#000" stroke-width="2.0" />
<line x1="669.20" y1="410.99" x2="674.80" y2="414.23" stroke="#000" stroke-width="2.0" />
<line x1="706.80" y1="432.69" x2="712.40" y2="435.92" stroke="#000" stroke-width="2.0" />
<line x1="398.10" y1="212.30" x2="403.70" y2="215.30" stroke="#000" stroke-width="2.0" />
<line x1="362.20" y1="274.70" x2="367.60" y2="277.70" stroke="#000" stroke-width="2.0" />
<line x1="603.90" y1="372.00" x2="609.00" y2="374.50" stroke="#000" stroke-width="1.7" />
<line x1="739.33" y1="477.64" x2="745.73" y2="473.94" stroke="#000" stroke-width="2.0" />
<line x1="729.90" y1="483.08" x2="736.30" y2="479.39" stroke="#000" stroke-width="2.0" />
<line x1="720.47" y1="488.52" x2="726.87" y2="484.83" stroke="#000" stroke-width="2.0" />
<line x1="711.04" y1="493.96" x2="717.44" y2="490.27" stroke="#000" stroke-width="2.0" />
<line x1="692.18" y1="504.84" x2="697.60" y2="501.72" stroke="#000" stroke-width="2.0" />
<line x1="682.75" y1="510.28" x2="689.15" y2="506.59" stroke="#000" stroke-width="2.0" />
<line x1="663.89" y1="521.17" x2="670.29" y2="517.47" stroke="#000" stroke-width="2.0" />
<line x1="654.46" y1="526.61" x2="660.86" y2="522.91" stroke="#000" stroke-width="2.0" />
<line x1="626.17" y1="542.93" x2="631.00" y2="540.14" stroke="#000" stroke-width="2.0" />
<line x1="616.74" y1="548.37" x2="623.14" y2="544.68" stroke="#000" stroke-width="2.0" />
<line x1="597.88" y1="559.25" x2="604.28" y2="555.56" stroke="#000" stroke-width="2.0" />
<line x1="588.45" y1="564.69" x2="594.85" y2="561.00" stroke="#000" stroke-width="2.0" />
<line x1="550.73" y1="586.46" x2="557.13" y2="582.77" stroke="#000" stroke-width="2.0" />
<line x1="541.30" y1="591.90" x2="547.70" y2="588.21" stroke="#000" stroke-width="2.0" />
<line x1="390.42" y1="678.96" x2="396.82" y2="675.27" stroke="#000" stroke-width="2.0" />
<line x1="380.99" y1="684.40" x2="387.39" y2="680.71" stroke="#000" stroke-width="2.0" />
<line x1="352.70" y1="700.72" x2="359.10" y2="697.03" stroke="#000" stroke-width="2.0" />
<line x1="343.27" y1="706.16" x2="349.67" y2="702.47" stroke="#000" stroke-width="2.0" />
<line x1="333.84" y1="711.60" x2="340.24" y2="707.91" stroke="#000" stroke-width="2.0" />
<line x1="324.41" y1="717.05" x2="330.81" y2="713.35" stroke="#000" stroke-width="2.0" />
<line x1="305.55" y1="727.93" x2="311.95" y2="724.24" stroke="#000" stroke-width="2.0" />
<line x1="296.12" y1="733.37" x2="302.52" y2="729.68" stroke="#000" stroke-width="2.0" />
<line x1="258.40" y1="755.13" x2="264.80" y2="751.44" stroke="#000" stroke-width="2.0" />
<line x1="249.40" y1="760.33" x2="255.37" y2="756.88" stroke="#000" stroke-width="2.0" />
<line x1="251.40" y1="799.20" x2="283.60" y2="783.00" stroke="#000" stroke-width="2.0" stroke-dasharray="6.6 3.9" stroke-dashoffset="0"/>
<line x1="759.50" y1="399.20" x2="759.80" y2="404.40" stroke="#000" stroke-width="2.1" />
<line x1="759.50" y1="410.00" x2="759.80" y2="415.80" stroke="#000" stroke-width="2.1" />
<line x1="759.50" y1="421.30" x2="759.80" y2="428.40" stroke="#000" stroke-width="2.1" />
<line x1="759.50" y1="431.20" x2="759.80" y2="437.40" stroke="#000" stroke-width="2.1" />
<line x1="762.50" y1="528.80" x2="762.50" y2="536.20" stroke="#000" stroke-width="2.1" />
<line x1="762.50" y1="539.60" x2="762.50" y2="546.60" stroke="#000" stroke-width="2.8" />
<line x1="762.50" y1="550.80" x2="762.50" y2="557.10" stroke="#000" stroke-width="2.1" />
<line x1="762.50" y1="561.80" x2="762.50" y2="567.60" stroke="#000" stroke-width="2.0" />
<line x1="186.84" y1="214.67" x2="222.83" y2="185.50" stroke="#333" stroke-width="0.65" />
<path d="M230.60 179.20 L224.60 187.67 L221.07 183.32 Z" fill="#000" stroke="#000" stroke-width="0.3" stroke-linejoin="round" />
<circle cx="178.3" cy="221.6" r="11.0" fill="#fff" stroke="#222" stroke-width="0.8"/>
<text transform="translate(178.6 226.7) scale(0.97 1)" class="cn" text-anchor="middle">3</text>
<line x1="223.90" y1="234.94" x2="262.22" y2="197.76" stroke="#333" stroke-width="0.65" />
<path d="M269.40 190.80 L264.17 199.77 L260.27 195.75 Z" fill="#000" stroke="#000" stroke-width="0.3" stroke-linejoin="round" />
<circle cx="216.0" cy="242.6" r="11.0" fill="#fff" stroke="#222" stroke-width="0.8"/>
<text transform="translate(216.3 247.7) scale(0.97 1)" class="cn" text-anchor="middle">4</text>
<line x1="251.36" y1="250.07" x2="280.64" y2="210.63" stroke="#333" stroke-width="0.65" />
<path d="M286.60 202.60 L282.89 212.30 L278.39 208.96 Z" fill="#000" stroke="#000" stroke-width="0.3" stroke-linejoin="round" />
<circle cx="244.8" cy="258.9" r="11.0" fill="#fff" stroke="#222" stroke-width="0.8"/>
<text transform="translate(245.1 264.0) scale(0.97 1)" class="cn" text-anchor="middle">15</text>
<line x1="280.44" y1="267.31" x2="303.64" y2="234.37" stroke="#333" stroke-width="0.65" />
<path d="M309.40 226.20 L305.93 235.99 L301.35 232.76 Z" fill="#000" stroke="#000" stroke-width="0.3" stroke-linejoin="round" />
<circle cx="274.1" cy="276.3" r="11.0" fill="#fff" stroke="#222" stroke-width="0.8"/>
<text transform="translate(274.4 281.4) scale(0.97 1)" class="cn" text-anchor="middle">1</text>
<line x1="324.07" y1="293.11" x2="339.35" y2="274.01" stroke="#333" stroke-width="0.65" />
<path d="M345.60 266.20 L341.54 275.76 L337.17 272.26 Z" fill="#000" stroke="#000" stroke-width="0.3" stroke-linejoin="round" />
<circle cx="317.2" cy="301.7" r="11.0" fill="#fff" stroke="#222" stroke-width="0.8"/>
<text transform="translate(317.5 306.8) scale(0.97 1)" class="cn" text-anchor="middle">10</text>
<line x1="361.80" y1="315.53" x2="373.43" y2="301.09" stroke="#333" stroke-width="0.65" />
<path d="M379.70 293.30 L375.61 302.84 L371.25 299.33 Z" fill="#000" stroke="#000" stroke-width="0.3" stroke-linejoin="round" />
<circle cx="354.9" cy="324.1" r="11.0" fill="#fff" stroke="#222" stroke-width="0.8"/>
<text transform="translate(355.2 329.2) scale(0.97 1)" class="cn" text-anchor="middle">12</text>
<line x1="419.63" y1="348.50" x2="430.84" y2="307.94" stroke="#333" stroke-width="0.65" />
<path d="M433.50 298.30 L433.54 308.68 L428.14 307.19 Z" fill="#000" stroke="#000" stroke-width="0.3" stroke-linejoin="round" />
<line x1="425.12" y1="352.03" x2="461.44" y2="321.53" stroke="#333" stroke-width="0.65" />
<path d="M469.10 315.10 L463.24 323.67 L459.64 319.39 Z" fill="#000" stroke="#000" stroke-width="0.3" stroke-linejoin="round" />
<circle cx="416.7" cy="359.1" r="11.0" fill="#fff" stroke="#222" stroke-width="0.8"/>
<text transform="translate(417.0 364.2) scale(0.97 1)" class="cn" text-anchor="middle">16</text>
<line x1="466.60" y1="375.43" x2="495.69" y2="335.76" stroke="#333" stroke-width="0.65" />
<path d="M501.60 327.70 L497.95 337.42 L493.43 334.11 Z" fill="#000" stroke="#000" stroke-width="0.3" stroke-linejoin="round" />
<circle cx="460.1" cy="384.3" r="11.0" fill="#fff" stroke="#222" stroke-width="0.8"/>
<text transform="translate(460.4 389.4) scale(0.97 1)" class="cn" text-anchor="middle">15</text>
<line x1="522.40" y1="407.45" x2="554.62" y2="366.46" stroke="#333" stroke-width="0.65" />
<path d="M560.80 358.60 L556.82 368.19 L552.42 364.73 Z" fill="#000" stroke="#000" stroke-width="0.3" stroke-linejoin="round" />
<circle cx="515.6" cy="416.1" r="11.0" fill="#fff" stroke="#222" stroke-width="0.8"/>
<text transform="translate(515.9 421.2) scale(0.97 1)" class="cn" text-anchor="middle">5</text>
<line x1="587.56" y1="445.44" x2="610.80" y2="419.01" stroke="#333" stroke-width="0.65" />
<path d="M617.40 411.50 L612.90 420.86 L608.69 417.16 Z" fill="#000" stroke="#000" stroke-width="0.3" stroke-linejoin="round" />
<circle cx="580.3" cy="453.7" r="11.0" fill="#fff" stroke="#222" stroke-width="0.8"/>
<text transform="translate(580.6 458.8) scale(0.97 1)" class="cn" text-anchor="middle">9</text>
<line x1="625.21" y1="466.36" x2="656.31" y2="426.95" stroke="#333" stroke-width="0.65" />
<path d="M662.50 419.10 L658.50 428.69 L654.11 425.22 Z" fill="#000" stroke="#000" stroke-width="0.3" stroke-linejoin="round" />
<line x1="627.38" y1="468.65" x2="682.23" y2="429.87" stroke="#333" stroke-width="0.65" />
<path d="M690.40 424.10 L683.85 432.16 L680.62 427.59 Z" fill="#000" stroke="#000" stroke-width="0.3" stroke-linejoin="round" />
<circle cx="618.4" cy="475.0" r="11.0" fill="#fff" stroke="#222" stroke-width="0.8"/>
<text transform="translate(618.7 480.1) scale(0.97 1)" class="cn" text-anchor="middle">17</text>
<line x1="730.86" y1="352.42" x2="749.50" y2="363.49" stroke="#333" stroke-width="0.65" />
<path d="M758.10 368.60 L748.07 365.90 L750.93 361.09 Z" fill="#000" stroke="#000" stroke-width="0.3" stroke-linejoin="round" />
<circle cx="721.4" cy="346.8" r="11.0" fill="#fff" stroke="#222" stroke-width="0.8"/>
<text transform="translate(721.7 351.9) scale(0.97 1)" class="cn" text-anchor="middle">14</text>
<line x1="808.29" y1="397.17" x2="790.44" y2="411.77" stroke="#333" stroke-width="0.65" />
<path d="M782.70 418.10 L788.67 409.60 L792.21 413.93 Z" fill="#000" stroke="#000" stroke-width="0.3" stroke-linejoin="round" />
<circle cx="816.8" cy="390.2" r="11.0" fill="#fff" stroke="#222" stroke-width="0.8"/>
<text transform="translate(817.1 395.3) scale(0.97 1)" class="cn" text-anchor="middle">7</text>
<line x1="737.24" y1="552.31" x2="709.77" y2="523.27" stroke="#333" stroke-width="0.65" />
<path d="M702.90 516.00 L711.81 521.34 L707.74 525.19 Z" fill="#000" stroke="#000" stroke-width="0.3" stroke-linejoin="round" />
<circle cx="744.8" cy="560.3" r="11.0" fill="#fff" stroke="#222" stroke-width="0.8"/>
<text transform="translate(745.1 565.4) scale(0.97 1)" class="cn" text-anchor="middle">2</text>
<line x1="794.43" y1="563.06" x2="774.28" y2="573.50" stroke="#333" stroke-width="0.65" />
<path d="M765.40 578.10 L772.99 571.01 L775.57 575.99 Z" fill="#000" stroke="#000" stroke-width="0.3" stroke-linejoin="round" />
<circle cx="804.2" cy="558.0" r="11.0" fill="#fff" stroke="#222" stroke-width="0.8"/>
<text transform="translate(804.5 563.1) scale(0.97 1)" class="cn" text-anchor="middle">6</text>
<line x1="690.93" y1="578.64" x2="676.74" y2="548.36" stroke="#333" stroke-width="0.65" />
<path d="M672.50 539.30 L679.28 547.17 L674.21 549.54 Z" fill="#000" stroke="#000" stroke-width="0.3" stroke-linejoin="round" />
<line x1="686.07" y1="583.10" x2="647.06" y2="560.60" stroke="#333" stroke-width="0.65" />
<path d="M638.40 555.60 L648.46 558.17 L645.66 563.02 Z" fill="#000" stroke="#000" stroke-width="0.3" stroke-linejoin="round" />
<circle cx="695.6" cy="588.6" r="11.0" fill="#fff" stroke="#222" stroke-width="0.8"/>
<text transform="translate(695.9 593.7) scale(0.97 1)" class="cn" text-anchor="middle">16</text>
<line x1="651.23" y1="602.25" x2="618.62" y2="573.69" stroke="#333" stroke-width="0.65" />
<path d="M611.10 567.10 L620.47 571.58 L616.78 575.80 Z" fill="#000" stroke="#000" stroke-width="0.3" stroke-linejoin="round" />
<circle cx="659.5" cy="609.5" r="11.0" fill="#fff" stroke="#222" stroke-width="0.8"/>
<text transform="translate(659.8 614.6) scale(0.97 1)" class="cn" text-anchor="middle">15</text>
<line x1="613.85" y1="624.77" x2="582.99" y2="606.41" stroke="#333" stroke-width="0.65" />
<path d="M574.40 601.30 L584.43 604.01 L581.56 608.82 Z" fill="#000" stroke="#000" stroke-width="0.3" stroke-linejoin="round" />
<circle cx="623.3" cy="630.4" r="11.0" fill="#fff" stroke="#222" stroke-width="0.8"/>
<text transform="translate(623.6 635.5) scale(0.97 1)" class="cn" text-anchor="middle">9</text>
<line x1="523.14" y1="677.27" x2="479.62" y2="649.39" stroke="#333" stroke-width="0.65" />
<path d="M471.20 644.00 L481.13 647.04 L478.11 651.75 Z" fill="#000" stroke="#000" stroke-width="0.3" stroke-linejoin="round" />
<circle cx="532.4" cy="683.2" r="11.0" fill="#fff" stroke="#222" stroke-width="0.8"/>
<text transform="translate(532.7 688.3) scale(0.97 1)" class="cn" text-anchor="middle">8</text>
<line x1="421.61" y1="734.71" x2="389.04" y2="714.06" stroke="#333" stroke-width="0.65" />
<path d="M380.60 708.70 L390.54 711.69 L387.55 716.42 Z" fill="#000" stroke="#000" stroke-width="0.3" stroke-linejoin="round" />
<circle cx="430.9" cy="740.6" r="11.0" fill="#fff" stroke="#222" stroke-width="0.8"/>
<text transform="translate(431.2 745.7) scale(0.97 1)" class="cn" text-anchor="middle">1</text>
<line x1="389.81" y1="753.79" x2="353.81" y2="734.44" stroke="#333" stroke-width="0.65" />
<path d="M345.00 729.70 L355.13 731.97 L352.48 736.90 Z" fill="#000" stroke="#000" stroke-width="0.3" stroke-linejoin="round" />
<circle cx="399.5" cy="759.0" r="11.0" fill="#fff" stroke="#222" stroke-width="0.8"/>
<text transform="translate(399.8 764.1) scale(0.97 1)" class="cn" text-anchor="middle">11</text>
<line x1="361.43" y1="769.73" x2="324.44" y2="745.22" stroke="#333" stroke-width="0.65" />
<path d="M316.10 739.70 L325.98 742.89 L322.89 747.56 Z" fill="#000" stroke="#000" stroke-width="0.3" stroke-linejoin="round" />
<circle cx="370.6" cy="775.8" r="11.0" fill="#fff" stroke="#222" stroke-width="0.8"/>
<text transform="translate(370.9 780.9) scale(0.97 1)" class="cn" text-anchor="middle">2</text>
<line x1="316.74" y1="795.88" x2="302.30" y2="787.31" stroke="#333" stroke-width="0.65" />
<path d="M293.70 782.20 L303.73 784.90 L300.87 789.71 Z" fill="#000" stroke="#000" stroke-width="0.3" stroke-linejoin="round" />
<circle cx="326.2" cy="801.5" r="11.0" fill="#fff" stroke="#222" stroke-width="0.8"/>
<text transform="translate(326.5 806.6) scale(0.97 1)" class="cn" text-anchor="middle">13</text>
<line x1="263.49" y1="826.08" x2="246.47" y2="814.97" stroke="#333" stroke-width="0.65" />
<path d="M238.10 809.50 L248.00 812.62 L244.94 817.31 Z" fill="#000" stroke="#000" stroke-width="0.3" stroke-linejoin="round" />
<circle cx="272.7" cy="832.1" r="11.0" fill="#fff" stroke="#222" stroke-width="0.8"/>
<text transform="translate(273.0 837.2) scale(0.97 1)" class="cn" text-anchor="middle">10</text>
<rect x="150.5" y="908.00" width="337.70" height="16.5" fill="#ededfb"/>
<rect x="150.5" y="924.50" width="337.70" height="16.5" fill="#fff"/>
<rect x="150.5" y="941.00" width="337.70" height="16.5" fill="#ededfb"/>
<rect x="150.5" y="957.50" width="337.70" height="16.5" fill="#fff"/>
<rect x="150.5" y="974.00" width="337.70" height="16.5" fill="#ededfb"/>
<rect x="150.5" y="990.50" width="337.70" height="16.5" fill="#fff"/>
<rect x="150.5" y="1007.00" width="337.70" height="16.5" fill="#ededfb"/>
<rect x="150.5" y="1023.50" width="337.70" height="16.5" fill="#fff"/>
<rect x="150.5" y="1040.00" width="337.70" height="16.5" fill="#ededfb"/>
<rect x="150.5" y="1056.50" width="337.70" height="16.5" fill="#fff"/>
<rect x="150.5" y="1073.00" width="337.70" height="16.5" fill="#ededfb"/>
<line x1="149.9" y1="907.90" x2="488.8" y2="907.90" stroke="#000" stroke-width="1.3"/>
<line x1="149.9" y1="924.05" x2="488.8" y2="924.05" stroke="#000" stroke-width="1.8"/>
<line x1="149.9" y1="940.50" x2="488.8" y2="940.50" stroke="#000" stroke-width="1.0"/>
<line x1="149.9" y1="957.05" x2="488.8" y2="957.05" stroke="#000" stroke-width="1.8"/>
<line x1="149.9" y1="973.50" x2="488.8" y2="973.50" stroke="#000" stroke-width="1.0"/>
<line x1="149.9" y1="990.05" x2="488.8" y2="990.05" stroke="#000" stroke-width="1.8"/>
<line x1="149.9" y1="1006.50" x2="488.8" y2="1006.50" stroke="#000" stroke-width="1.0"/>
<line x1="149.9" y1="1023.05" x2="488.8" y2="1023.05" stroke="#000" stroke-width="1.8"/>
<line x1="149.9" y1="1039.50" x2="488.8" y2="1039.50" stroke="#000" stroke-width="1.0"/>
<line x1="149.9" y1="1056.05" x2="488.8" y2="1056.05" stroke="#000" stroke-width="1.8"/>
<line x1="149.9" y1="1072.50" x2="488.8" y2="1072.50" stroke="#000" stroke-width="1.0"/>
<line x1="149.9" y1="1089.40" x2="488.8" y2="1089.40" stroke="#000" stroke-width="1.3"/>
<line x1="150.5" y1="908.0" x2="150.5" y2="1089.50" stroke="#000" stroke-width="1.2"/>
<line x1="192.0" y1="908.0" x2="192.0" y2="1089.50" stroke="#000" stroke-width="1.8"/>
<line x1="247.6" y1="908.0" x2="247.6" y2="1089.50" stroke="#000" stroke-width="1.1"/>
<line x1="450.2" y1="908.0" x2="450.2" y2="1089.50" stroke="#000" stroke-width="1.7"/>
<line x1="488.2" y1="908.0" x2="488.2" y2="1089.50" stroke="#000" stroke-width="1.5"/>
<text x="157.4" y="920.40" class="th">ITEM</text>
<text x="199.0" y="920.40" class="th">PART #</text>
<text x="254.6" y="920.40" class="th">DESCRIPTION</text>
<text x="457.0" y="920.40" class="th">QTY</text>
<text x="157.4" y="936.90" class="td">1</text>
<text x="199.0" y="936.90" class="td">521116</text>
<text x="254.6" y="936.90" class="td">BEARING</text>
<text x="457.0" y="936.90" class="td">3</text>
<text x="157.4" y="953.40" class="td">2</text>
<text x="199.0" y="953.40" class="td">521120</text>
<text x="254.6" y="953.40" class="td">OIL SEAL</text>
<text x="457.0" y="953.40" class="td">2</text>
<text x="157.4" y="969.90" class="td">3</text>
<text x="199.0" y="969.90" class="td">521127</text>
<text x="254.6" y="969.90" class="td">OIL SEAL</text>
<text x="457.0" y="969.90" class="td">2</text>
<text x="157.4" y="986.40" class="td">4</text>
<text x="199.0" y="986.40" class="td">521137</text>
<text x="254.6" y="986.40" class="td">SNAP RING</text>
<text x="457.0" y="986.40" class="td">2</text>
<text x="157.4" y="1002.90" class="td">5</text>
<text x="199.0" y="1002.90" class="td">521481</text>
<text x="254.6" y="1002.90" class="td">STUB SHAFT</text>
<text x="457.0" y="1002.90" class="td">2</text>
<text x="157.4" y="1019.40" class="td">6</text>
<text x="199.0" y="1019.40" class="td">521482</text>
<text x="254.6" y="1019.40" class="td">HEX PIPE PLUG</text>
<text x="457.0" y="1019.40" class="td">1</text>
<text x="157.4" y="1035.90" class="td">7</text>
<text x="199.0" y="1035.90" class="td">521483</text>
<text x="254.6" y="1035.90" class="td">HOUSING</text>
<text x="457.0" y="1035.90" class="td">1</text>
<text x="157.4" y="1052.40" class="td">8</text>
<text x="199.0" y="1052.40" class="td">521486</text>
<text x="254.6" y="1052.40" class="td">THRU SHAFT</text>
<text x="457.0" y="1052.40" class="td">1</text>
<text x="157.4" y="1068.90" class="td">9</text>
<text x="199.0" y="1068.90" class="td">521487</text>
<text x="254.6" y="1068.90" class="td">GEAR</text>
<text x="457.0" y="1068.90" class="td">3</text>
<text x="157.4" y="1085.40" class="td">10</text>
<text x="199.0" y="1085.40" class="td">521488</text>
<text x="254.6" y="1085.40" class="td">BOLT - M12 X 25 - 8,8 (6 PCS)</text>
<text x="457.0" y="1085.40" class="td">12</text>
<rect x="506.4" y="908.00" width="337.20" height="16.5" fill="#ededfb"/>
<rect x="506.4" y="924.50" width="337.20" height="16.5" fill="#fff"/>
<rect x="506.4" y="941.00" width="337.20" height="16.5" fill="#ededfb"/>
<rect x="506.4" y="957.50" width="337.20" height="16.5" fill="#fff"/>
<rect x="506.4" y="974.00" width="337.20" height="16.5" fill="#ededfb"/>
<rect x="506.4" y="990.50" width="337.20" height="16.5" fill="#fff"/>
<rect x="506.4" y="1007.00" width="337.20" height="16.5" fill="#ededfb"/>
<rect x="506.4" y="1023.50" width="337.20" height="16.5" fill="#fff"/>
<rect x="506.4" y="1040.00" width="337.20" height="16.5" fill="#ededfb"/>
<line x1="505.79999999999995" y1="907.90" x2="844.2" y2="907.90" stroke="#000" stroke-width="1.3"/>
<line x1="505.79999999999995" y1="924.05" x2="844.2" y2="924.05" stroke="#000" stroke-width="1.8"/>
<line x1="505.79999999999995" y1="940.50" x2="844.2" y2="940.50" stroke="#000" stroke-width="1.0"/>
<line x1="505.79999999999995" y1="957.05" x2="844.2" y2="957.05" stroke="#000" stroke-width="1.8"/>
<line x1="505.79999999999995" y1="973.50" x2="844.2" y2="973.50" stroke="#000" stroke-width="1.0"/>
<line x1="505.79999999999995" y1="990.05" x2="844.2" y2="990.05" stroke="#000" stroke-width="1.8"/>
<line x1="505.79999999999995" y1="1006.50" x2="844.2" y2="1006.50" stroke="#000" stroke-width="1.0"/>
<line x1="505.79999999999995" y1="1023.05" x2="844.2" y2="1023.05" stroke="#000" stroke-width="1.8"/>
<line x1="505.79999999999995" y1="1039.50" x2="844.2" y2="1039.50" stroke="#000" stroke-width="1.0"/>
<line x1="505.79999999999995" y1="1056.40" x2="844.2" y2="1056.40" stroke="#000" stroke-width="1.3"/>
<line x1="506.4" y1="908.0" x2="506.4" y2="1056.50" stroke="#000" stroke-width="1.2"/>
<line x1="547.7" y1="908.0" x2="547.7" y2="1056.50" stroke="#000" stroke-width="1.1"/>
<line x1="603.0" y1="908.0" x2="603.0" y2="1056.50" stroke="#000" stroke-width="1.8"/>
<line x1="805.6" y1="908.0" x2="805.6" y2="1056.50" stroke="#000" stroke-width="1.2"/>
<line x1="843.6" y1="908.0" x2="843.6" y2="1056.50" stroke="#000" stroke-width="1.3"/>
<text x="512.6" y="920.40" class="th">ITEM</text>
<text x="554.8" y="920.40" class="th">PART #</text>
<text x="609.8" y="920.40" class="th">DESCRIPTION</text>
<text x="812.4" y="920.40" class="th">QTY</text>
<text x="512.6" y="936.90" class="td">11</text>
<text x="554.8" y="936.90" class="td">521491</text>
<text x="609.8" y="936.90" class="td">SHIM KIT</text>
<text x="812.4" y="936.90" class="td">1</text>
<text x="512.6" y="953.40" class="td">12</text>
<text x="554.8" y="953.40" class="td">521796</text>
<text x="609.8" y="953.40" class="td">EXTENSION HOUSING</text>
<text x="812.4" y="953.40" class="td">2</text>
<text x="512.6" y="969.90" class="td">13</text>
<text x="554.8" y="969.90" class="td">521797</text>
<text x="609.8" y="969.90" class="td">COVER</text>
<text x="812.4" y="969.90" class="td">1</text>
<text x="512.6" y="986.40" class="td">14</text>
<text x="554.8" y="986.40" class="td">521489</text>
<text x="609.8" y="986.40" class="td">OIL LEVEL DIPSTICK</text>
<text x="812.4" y="986.40" class="td">1</text>
<text x="512.6" y="1002.90" class="td">15</text>
<text x="554.8" y="1002.90" class="td">521794</text>
<text x="609.8" y="1002.90" class="td">SHIM KIT</text>
<text x="812.4" y="1002.90" class="td">5</text>
<text x="512.6" y="1019.40" class="td">16</text>
<text x="554.8" y="1019.40" class="td">521362</text>
<text x="609.8" y="1019.40" class="td">BEARING - TAPERED</text>
<text x="812.4" y="1019.40" class="td">2</text>
<text x="512.6" y="1035.90" class="td">17</text>
<text x="554.8" y="1035.90" class="td">522426</text>
<text x="609.8" y="1035.90" class="td">BOLT AND WASHER KIT (4 PCS)</text>
<text x="812.4" y="1035.90" class="td">2</text>
<text x="512.6" y="1052.40" class="td">18</text>
<text x="554.8" y="1052.40" class="td">521497</text>
<text x="609.8" y="1052.40" class="td">COMPLETE GEARBOX</text>
<text x="812.4" y="1052.40" class="td">1</text>
</svg>
</body></html>
